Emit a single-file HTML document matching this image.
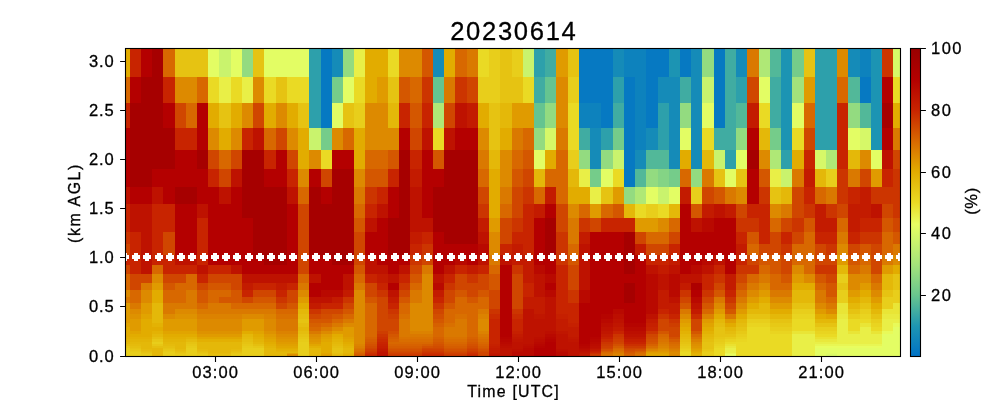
<!DOCTYPE html>
<html><head><meta charset="utf-8"><title>20230614</title>
<style>
html,body{margin:0;padding:0;background:#fff;}
body{width:1000px;height:400px;position:relative;overflow:hidden;font-family:"Liberation Sans",sans-serif;color:#000;}
.t{position:absolute;white-space:nowrap;font-size:16.5px;line-height:20px;letter-spacing:0.6px;will-change:transform;-webkit-text-stroke:0.3px #000;}
.xt{top:361.6px;width:80px;text-align:center;letter-spacing:1.1px;text-indent:1.1px;}
.yt{left:40px;width:74.4px;text-align:right;letter-spacing:0.8px;}
.ct{left:931.3px;text-align:left;letter-spacing:1.5px;}
#title{left:312.5px;width:400px;text-align:center;top:16px;font-size:25.6px;line-height:30px;letter-spacing:1.67px;text-indent:1.67px;}
#xl{left:312.5px;width:400px;text-align:center;top:382.3px;line-height:20px;font-size:15.9px;letter-spacing:1.2px;text-indent:1.2px;}
#yl{left:75.4px;top:203.4px;width:0;height:0;font-size:15.9px;letter-spacing:1.6px;}
#yl span,#cl span{position:absolute;display:block;width:200px;left:-100px;top:-10px;line-height:20px;text-align:center;transform:rotate(-90deg);}
#cl{left:971.3px;top:200.8px;width:0;height:0;}
</style></head><body>
<svg width="1000" height="400" viewBox="0 0 1000 400" style="position:absolute;left:0;top:0">
<defs><linearGradient id="cb" x1="0" y1="1" x2="0" y2="0"><stop offset="0.0000" stop-color="#0072c6"/><stop offset="0.0991" stop-color="#1e96b2"/><stop offset="0.1992" stop-color="#69c68e"/><stop offset="0.2993" stop-color="#a5e47a"/><stop offset="0.4294" stop-color="#e8ff62"/><stop offset="0.4995" stop-color="#eada24"/><stop offset="0.5996" stop-color="#e2ac00"/><stop offset="0.6997" stop-color="#d86800"/><stop offset="0.7998" stop-color="#c82400"/><stop offset="0.8999" stop-color="#b40000"/><stop offset="1.0000" stop-color="#980000"/></linearGradient></defs>
<g shape-rendering="crispEdges"><rect x="126.00" y="348.00" width="4.00" height="8.00" fill="#e8ce1b"/><rect x="126.00" y="346.00" width="4.00" height="2.00" fill="#e7c715"/><rect x="126.00" y="344.00" width="4.00" height="2.00" fill="#e5bf0f"/><rect x="126.00" y="342.00" width="4.00" height="2.00" fill="#e4b809"/><rect x="126.00" y="339.00" width="4.00" height="3.00" fill="#e3b406"/><rect x="126.00" y="337.00" width="4.00" height="2.00" fill="#e3b003"/><rect x="126.00" y="327.00" width="4.00" height="10.00" fill="#e2ac00"/><rect x="126.00" y="323.00" width="4.00" height="4.00" fill="#e1a400"/><rect x="126.00" y="303.00" width="4.00" height="20.00" fill="#e09b00"/><rect x="126.00" y="297.00" width="4.00" height="6.00" fill="#da7900"/><rect x="126.00" y="290.00" width="4.00" height="7.00" fill="#dd8a00"/><rect x="126.00" y="274.00" width="4.00" height="16.00" fill="#d86800"/><rect x="126.00" y="265.00" width="4.00" height="9.00" fill="#d04600"/><rect x="126.00" y="255.00" width="4.00" height="10.00" fill="#c82400"/><rect x="126.00" y="244.00" width="4.00" height="11.00" fill="#d04600"/><rect x="126.00" y="232.00" width="4.00" height="12.00" fill="#cc3500"/><rect x="126.00" y="204.00" width="4.00" height="28.00" fill="#c82400"/><rect x="126.00" y="187.00" width="4.00" height="17.00" fill="#be1200"/><rect x="126.00" y="128.00" width="4.00" height="59.00" fill="#b40000"/><rect x="126.00" y="103.00" width="4.00" height="25.00" fill="#c82400"/><rect x="126.00" y="77.00" width="4.00" height="26.00" fill="#d86800"/><rect x="126.00" y="49.00" width="4.00" height="28.00" fill="#e2ac00"/><rect x="130.00" y="352.00" width="11.00" height="4.00" fill="#e8ce1b"/><rect x="130.00" y="351.00" width="11.00" height="1.00" fill="#e7cb18"/><rect x="130.00" y="349.00" width="11.00" height="2.00" fill="#e7c715"/><rect x="130.00" y="348.00" width="11.00" height="1.00" fill="#e6c312"/><rect x="130.00" y="346.00" width="11.00" height="2.00" fill="#e5bf0f"/><rect x="130.00" y="344.00" width="11.00" height="2.00" fill="#e5bb0c"/><rect x="130.00" y="342.00" width="11.00" height="2.00" fill="#e4b809"/><rect x="130.00" y="339.00" width="11.00" height="3.00" fill="#e3b406"/><rect x="130.00" y="337.00" width="11.00" height="2.00" fill="#e3b003"/><rect x="130.00" y="334.00" width="11.00" height="3.00" fill="#e2ac00"/><rect x="130.00" y="331.00" width="11.00" height="3.00" fill="#e1a400"/><rect x="130.00" y="319.00" width="11.00" height="12.00" fill="#e09b00"/><rect x="130.00" y="314.00" width="11.00" height="5.00" fill="#de9200"/><rect x="130.00" y="309.00" width="11.00" height="5.00" fill="#dd8a00"/><rect x="130.00" y="303.00" width="11.00" height="6.00" fill="#da7900"/><rect x="130.00" y="290.00" width="11.00" height="13.00" fill="#d86800"/><rect x="130.00" y="274.00" width="11.00" height="16.00" fill="#d04600"/><rect x="130.00" y="232.00" width="11.00" height="42.00" fill="#c82400"/><rect x="130.00" y="204.00" width="11.00" height="28.00" fill="#be1200"/><rect x="130.00" y="187.00" width="11.00" height="17.00" fill="#b40000"/><rect x="130.00" y="103.00" width="11.00" height="84.00" fill="#a60000"/><rect x="130.00" y="77.00" width="11.00" height="26.00" fill="#b40000"/><rect x="130.00" y="49.00" width="11.00" height="28.00" fill="#c82400"/><rect x="141.00" y="356.00" width="11.00" height="0.00" fill="#e8ce1b"/><rect x="141.00" y="354.00" width="11.00" height="2.00" fill="#e7cb18"/><rect x="141.00" y="353.00" width="11.00" height="1.00" fill="#e7c715"/><rect x="141.00" y="352.00" width="11.00" height="1.00" fill="#e6c312"/><rect x="141.00" y="351.00" width="11.00" height="1.00" fill="#e5bf0f"/><rect x="141.00" y="349.00" width="11.00" height="2.00" fill="#e5bb0c"/><rect x="141.00" y="342.00" width="11.00" height="7.00" fill="#e4b809"/><rect x="141.00" y="339.00" width="11.00" height="3.00" fill="#e3b406"/><rect x="141.00" y="337.00" width="11.00" height="2.00" fill="#e3b003"/><rect x="141.00" y="319.00" width="11.00" height="18.00" fill="#e2ac00"/><rect x="141.00" y="314.00" width="11.00" height="5.00" fill="#e1a400"/><rect x="141.00" y="303.00" width="11.00" height="11.00" fill="#e09b00"/><rect x="141.00" y="290.00" width="11.00" height="13.00" fill="#dd8a00"/><rect x="141.00" y="283.00" width="11.00" height="7.00" fill="#da7900"/><rect x="141.00" y="274.00" width="11.00" height="9.00" fill="#d04600"/><rect x="141.00" y="204.00" width="11.00" height="70.00" fill="#be1200"/><rect x="141.00" y="187.00" width="11.00" height="17.00" fill="#b40000"/><rect x="141.00" y="77.00" width="11.00" height="110.00" fill="#a60000"/><rect x="141.00" y="49.00" width="11.00" height="28.00" fill="#b40000"/><rect x="152.00" y="348.00" width="11.00" height="8.00" fill="#e4b809"/><rect x="152.00" y="346.00" width="11.00" height="2.00" fill="#e5bf0f"/><rect x="152.00" y="344.00" width="11.00" height="2.00" fill="#e7c715"/><rect x="152.00" y="342.00" width="11.00" height="2.00" fill="#e8ce1b"/><rect x="152.00" y="339.00" width="11.00" height="3.00" fill="#e7c715"/><rect x="152.00" y="337.00" width="11.00" height="2.00" fill="#e5bf0f"/><rect x="152.00" y="334.00" width="11.00" height="3.00" fill="#e4b809"/><rect x="152.00" y="331.00" width="11.00" height="3.00" fill="#e3b204"/><rect x="152.00" y="327.00" width="11.00" height="4.00" fill="#e2ac00"/><rect x="152.00" y="323.00" width="11.00" height="4.00" fill="#e3b204"/><rect x="152.00" y="303.00" width="11.00" height="20.00" fill="#e4b809"/><rect x="152.00" y="290.00" width="11.00" height="13.00" fill="#e2ac00"/><rect x="152.00" y="283.00" width="11.00" height="7.00" fill="#e09b00"/><rect x="152.00" y="274.00" width="11.00" height="9.00" fill="#dd8a00"/><rect x="152.00" y="265.00" width="11.00" height="9.00" fill="#d86800"/><rect x="152.00" y="204.00" width="11.00" height="61.00" fill="#c82400"/><rect x="152.00" y="187.00" width="11.00" height="17.00" fill="#be1200"/><rect x="152.00" y="169.00" width="11.00" height="18.00" fill="#b40000"/><rect x="152.00" y="49.00" width="11.00" height="120.00" fill="#a60000"/><rect x="163.00" y="352.00" width="12.00" height="4.00" fill="#e8ce1b"/><rect x="163.00" y="351.00" width="12.00" height="1.00" fill="#e7cb18"/><rect x="163.00" y="349.00" width="12.00" height="2.00" fill="#e7c715"/><rect x="163.00" y="348.00" width="12.00" height="1.00" fill="#e6c312"/><rect x="163.00" y="346.00" width="12.00" height="2.00" fill="#e5bf0f"/><rect x="163.00" y="344.00" width="12.00" height="2.00" fill="#e5bb0c"/><rect x="163.00" y="342.00" width="12.00" height="2.00" fill="#e4b809"/><rect x="163.00" y="339.00" width="12.00" height="3.00" fill="#e3b406"/><rect x="163.00" y="337.00" width="12.00" height="2.00" fill="#e3b003"/><rect x="163.00" y="334.00" width="12.00" height="3.00" fill="#e2ac00"/><rect x="163.00" y="331.00" width="12.00" height="3.00" fill="#e1a400"/><rect x="163.00" y="319.00" width="12.00" height="12.00" fill="#e09b00"/><rect x="163.00" y="314.00" width="12.00" height="5.00" fill="#dd8a00"/><rect x="163.00" y="303.00" width="12.00" height="11.00" fill="#da7900"/><rect x="163.00" y="290.00" width="12.00" height="13.00" fill="#d86800"/><rect x="163.00" y="283.00" width="12.00" height="7.00" fill="#d45700"/><rect x="163.00" y="274.00" width="12.00" height="9.00" fill="#d04600"/><rect x="163.00" y="255.00" width="12.00" height="19.00" fill="#c82400"/><rect x="163.00" y="232.00" width="12.00" height="23.00" fill="#d04600"/><rect x="163.00" y="204.00" width="12.00" height="28.00" fill="#c82400"/><rect x="163.00" y="169.00" width="12.00" height="35.00" fill="#b40000"/><rect x="163.00" y="128.00" width="12.00" height="41.00" fill="#a60000"/><rect x="163.00" y="103.00" width="12.00" height="25.00" fill="#b40000"/><rect x="163.00" y="77.00" width="12.00" height="26.00" fill="#c82400"/><rect x="163.00" y="49.00" width="12.00" height="28.00" fill="#d86800"/><rect x="175.00" y="356.00" width="11.00" height="0.00" fill="#e8ce1b"/><rect x="175.00" y="354.00" width="11.00" height="2.00" fill="#e7cb18"/><rect x="175.00" y="353.00" width="11.00" height="1.00" fill="#e7c715"/><rect x="175.00" y="352.00" width="11.00" height="1.00" fill="#e6c312"/><rect x="175.00" y="351.00" width="11.00" height="1.00" fill="#e5bf0f"/><rect x="175.00" y="349.00" width="11.00" height="2.00" fill="#e5bb0c"/><rect x="175.00" y="342.00" width="11.00" height="7.00" fill="#e4b809"/><rect x="175.00" y="339.00" width="11.00" height="3.00" fill="#e3b406"/><rect x="175.00" y="337.00" width="11.00" height="2.00" fill="#e3b003"/><rect x="175.00" y="334.00" width="11.00" height="3.00" fill="#e2ac00"/><rect x="175.00" y="331.00" width="11.00" height="3.00" fill="#e1a400"/><rect x="175.00" y="319.00" width="11.00" height="12.00" fill="#e09b00"/><rect x="175.00" y="314.00" width="11.00" height="5.00" fill="#de9200"/><rect x="175.00" y="309.00" width="11.00" height="5.00" fill="#dd8a00"/><rect x="175.00" y="303.00" width="11.00" height="6.00" fill="#da7900"/><rect x="175.00" y="283.00" width="11.00" height="20.00" fill="#d86800"/><rect x="175.00" y="274.00" width="11.00" height="9.00" fill="#d04600"/><rect x="175.00" y="265.00" width="11.00" height="9.00" fill="#c82400"/><rect x="175.00" y="255.00" width="11.00" height="10.00" fill="#be1200"/><rect x="175.00" y="204.00" width="11.00" height="51.00" fill="#b40000"/><rect x="175.00" y="187.00" width="11.00" height="17.00" fill="#a60000"/><rect x="175.00" y="150.00" width="11.00" height="37.00" fill="#b40000"/><rect x="175.00" y="128.00" width="11.00" height="22.00" fill="#c82400"/><rect x="175.00" y="103.00" width="11.00" height="25.00" fill="#d04600"/><rect x="175.00" y="77.00" width="11.00" height="26.00" fill="#dd8a00"/><rect x="175.00" y="49.00" width="11.00" height="28.00" fill="#e6c312"/><rect x="186.00" y="348.00" width="11.00" height="8.00" fill="#e8ce1b"/><rect x="186.00" y="346.00" width="11.00" height="2.00" fill="#e7cb18"/><rect x="186.00" y="344.00" width="11.00" height="2.00" fill="#e7c715"/><rect x="186.00" y="342.00" width="11.00" height="2.00" fill="#e6c312"/><rect x="186.00" y="339.00" width="11.00" height="3.00" fill="#e5bb0c"/><rect x="186.00" y="337.00" width="11.00" height="2.00" fill="#e3b406"/><rect x="186.00" y="334.00" width="11.00" height="3.00" fill="#e2ac00"/><rect x="186.00" y="331.00" width="11.00" height="3.00" fill="#e1a400"/><rect x="186.00" y="319.00" width="11.00" height="12.00" fill="#e09b00"/><rect x="186.00" y="314.00" width="11.00" height="5.00" fill="#de9200"/><rect x="186.00" y="309.00" width="11.00" height="5.00" fill="#dd8a00"/><rect x="186.00" y="290.00" width="11.00" height="19.00" fill="#da7900"/><rect x="186.00" y="274.00" width="11.00" height="16.00" fill="#d86800"/><rect x="186.00" y="265.00" width="11.00" height="9.00" fill="#c82400"/><rect x="186.00" y="255.00" width="11.00" height="10.00" fill="#be1200"/><rect x="186.00" y="204.00" width="11.00" height="51.00" fill="#b40000"/><rect x="186.00" y="187.00" width="11.00" height="17.00" fill="#a60000"/><rect x="186.00" y="150.00" width="11.00" height="37.00" fill="#b40000"/><rect x="186.00" y="128.00" width="11.00" height="22.00" fill="#c82400"/><rect x="186.00" y="103.00" width="11.00" height="25.00" fill="#d86800"/><rect x="186.00" y="77.00" width="11.00" height="26.00" fill="#dd8a00"/><rect x="186.00" y="49.00" width="11.00" height="28.00" fill="#e6c312"/><rect x="197.00" y="356.00" width="11.00" height="0.00" fill="#e8ce1b"/><rect x="197.00" y="354.00" width="11.00" height="2.00" fill="#e7cb18"/><rect x="197.00" y="353.00" width="11.00" height="1.00" fill="#e7c715"/><rect x="197.00" y="352.00" width="11.00" height="1.00" fill="#e6c312"/><rect x="197.00" y="351.00" width="11.00" height="1.00" fill="#e5bf0f"/><rect x="197.00" y="349.00" width="11.00" height="2.00" fill="#e5bb0c"/><rect x="197.00" y="342.00" width="11.00" height="7.00" fill="#e4b809"/><rect x="197.00" y="339.00" width="11.00" height="3.00" fill="#e3b003"/><rect x="197.00" y="337.00" width="11.00" height="2.00" fill="#e1a600"/><rect x="197.00" y="334.00" width="11.00" height="3.00" fill="#e09b00"/><rect x="197.00" y="331.00" width="11.00" height="3.00" fill="#de9200"/><rect x="197.00" y="319.00" width="11.00" height="12.00" fill="#dd8a00"/><rect x="197.00" y="314.00" width="11.00" height="5.00" fill="#dc8200"/><rect x="197.00" y="309.00" width="11.00" height="5.00" fill="#da7900"/><rect x="197.00" y="303.00" width="11.00" height="6.00" fill="#d86800"/><rect x="197.00" y="290.00" width="11.00" height="13.00" fill="#d45700"/><rect x="197.00" y="283.00" width="11.00" height="7.00" fill="#d04600"/><rect x="197.00" y="274.00" width="11.00" height="9.00" fill="#c82400"/><rect x="197.00" y="265.00" width="11.00" height="9.00" fill="#be1200"/><rect x="197.00" y="218.00" width="11.00" height="47.00" fill="#c82400"/><rect x="197.00" y="204.00" width="11.00" height="14.00" fill="#be1200"/><rect x="197.00" y="169.00" width="11.00" height="35.00" fill="#b40000"/><rect x="197.00" y="150.00" width="11.00" height="19.00" fill="#a60000"/><rect x="197.00" y="103.00" width="11.00" height="47.00" fill="#b40000"/><rect x="197.00" y="77.00" width="11.00" height="26.00" fill="#d86800"/><rect x="197.00" y="49.00" width="11.00" height="28.00" fill="#e6c312"/><rect x="208.00" y="356.00" width="11.00" height="0.00" fill="#e6c312"/><rect x="208.00" y="354.00" width="11.00" height="2.00" fill="#e5bf0f"/><rect x="208.00" y="353.00" width="11.00" height="1.00" fill="#e5bb0c"/><rect x="208.00" y="342.00" width="11.00" height="11.00" fill="#e4b809"/><rect x="208.00" y="339.00" width="11.00" height="3.00" fill="#e3b003"/><rect x="208.00" y="337.00" width="11.00" height="2.00" fill="#e1a600"/><rect x="208.00" y="334.00" width="11.00" height="3.00" fill="#e09b00"/><rect x="208.00" y="331.00" width="11.00" height="3.00" fill="#de9200"/><rect x="208.00" y="319.00" width="11.00" height="12.00" fill="#dd8a00"/><rect x="208.00" y="314.00" width="11.00" height="5.00" fill="#dc8200"/><rect x="208.00" y="303.00" width="11.00" height="11.00" fill="#da7900"/><rect x="208.00" y="290.00" width="11.00" height="13.00" fill="#d86800"/><rect x="208.00" y="283.00" width="11.00" height="7.00" fill="#d45700"/><rect x="208.00" y="274.00" width="11.00" height="9.00" fill="#d04600"/><rect x="208.00" y="265.00" width="11.00" height="9.00" fill="#c82400"/><rect x="208.00" y="187.00" width="11.00" height="78.00" fill="#b40000"/><rect x="208.00" y="169.00" width="11.00" height="18.00" fill="#c82400"/><rect x="208.00" y="150.00" width="11.00" height="19.00" fill="#d04600"/><rect x="208.00" y="128.00" width="11.00" height="22.00" fill="#dd8a00"/><rect x="208.00" y="103.00" width="11.00" height="25.00" fill="#e2ac00"/><rect x="208.00" y="77.00" width="11.00" height="26.00" fill="#eada24"/><rect x="208.00" y="49.00" width="11.00" height="28.00" fill="#e3fd64"/><rect x="219.00" y="356.00" width="12.00" height="0.00" fill="#e6c312"/><rect x="219.00" y="354.00" width="12.00" height="2.00" fill="#e5bf0f"/><rect x="219.00" y="353.00" width="12.00" height="1.00" fill="#e5bb0c"/><rect x="219.00" y="342.00" width="12.00" height="11.00" fill="#e4b809"/><rect x="219.00" y="339.00" width="12.00" height="3.00" fill="#e3b003"/><rect x="219.00" y="337.00" width="12.00" height="2.00" fill="#e1a600"/><rect x="219.00" y="334.00" width="12.00" height="3.00" fill="#e09b00"/><rect x="219.00" y="331.00" width="12.00" height="3.00" fill="#de9200"/><rect x="219.00" y="319.00" width="12.00" height="12.00" fill="#dd8a00"/><rect x="219.00" y="314.00" width="12.00" height="5.00" fill="#dc8200"/><rect x="219.00" y="303.00" width="12.00" height="11.00" fill="#da7900"/><rect x="219.00" y="297.00" width="12.00" height="6.00" fill="#d45700"/><rect x="219.00" y="290.00" width="12.00" height="7.00" fill="#d86800"/><rect x="219.00" y="283.00" width="12.00" height="7.00" fill="#d45700"/><rect x="219.00" y="274.00" width="12.00" height="9.00" fill="#d04600"/><rect x="219.00" y="265.00" width="12.00" height="9.00" fill="#c82400"/><rect x="219.00" y="204.00" width="12.00" height="61.00" fill="#b40000"/><rect x="219.00" y="187.00" width="12.00" height="17.00" fill="#be1200"/><rect x="219.00" y="169.00" width="12.00" height="18.00" fill="#d04600"/><rect x="219.00" y="150.00" width="12.00" height="19.00" fill="#d86800"/><rect x="219.00" y="128.00" width="12.00" height="22.00" fill="#e2ac00"/><rect x="219.00" y="103.00" width="12.00" height="25.00" fill="#e6c312"/><rect x="219.00" y="77.00" width="12.00" height="26.00" fill="#e9ef47"/><rect x="219.00" y="49.00" width="12.00" height="28.00" fill="#c9f36d"/><rect x="231.00" y="356.00" width="11.00" height="0.00" fill="#e8ce1b"/><rect x="231.00" y="354.00" width="11.00" height="2.00" fill="#e7cb18"/><rect x="231.00" y="353.00" width="11.00" height="1.00" fill="#e7c715"/><rect x="231.00" y="352.00" width="11.00" height="1.00" fill="#e6c312"/><rect x="231.00" y="351.00" width="11.00" height="1.00" fill="#e5bf0f"/><rect x="231.00" y="349.00" width="11.00" height="2.00" fill="#e5bb0c"/><rect x="231.00" y="342.00" width="11.00" height="7.00" fill="#e4b809"/><rect x="231.00" y="339.00" width="11.00" height="3.00" fill="#e3b003"/><rect x="231.00" y="337.00" width="11.00" height="2.00" fill="#e1a600"/><rect x="231.00" y="334.00" width="11.00" height="3.00" fill="#e09b00"/><rect x="231.00" y="331.00" width="11.00" height="3.00" fill="#de9200"/><rect x="231.00" y="319.00" width="11.00" height="12.00" fill="#dd8a00"/><rect x="231.00" y="314.00" width="11.00" height="5.00" fill="#dc8200"/><rect x="231.00" y="309.00" width="11.00" height="5.00" fill="#da7900"/><rect x="231.00" y="303.00" width="11.00" height="6.00" fill="#d86800"/><rect x="231.00" y="290.00" width="11.00" height="13.00" fill="#d45700"/><rect x="231.00" y="274.00" width="11.00" height="16.00" fill="#d04600"/><rect x="231.00" y="265.00" width="11.00" height="9.00" fill="#be1200"/><rect x="231.00" y="187.00" width="11.00" height="78.00" fill="#b40000"/><rect x="231.00" y="169.00" width="11.00" height="18.00" fill="#be1200"/><rect x="231.00" y="150.00" width="11.00" height="19.00" fill="#d04600"/><rect x="231.00" y="128.00" width="11.00" height="22.00" fill="#dd8a00"/><rect x="231.00" y="103.00" width="11.00" height="25.00" fill="#e2ac00"/><rect x="231.00" y="77.00" width="11.00" height="26.00" fill="#eada24"/><rect x="231.00" y="49.00" width="11.00" height="28.00" fill="#e3fd64"/><rect x="242.00" y="348.00" width="11.00" height="8.00" fill="#e8ce1b"/><rect x="242.00" y="346.00" width="11.00" height="2.00" fill="#e7cb18"/><rect x="242.00" y="344.00" width="11.00" height="2.00" fill="#e7c715"/><rect x="242.00" y="342.00" width="11.00" height="2.00" fill="#e6c312"/><rect x="242.00" y="339.00" width="11.00" height="3.00" fill="#e5bf0f"/><rect x="242.00" y="337.00" width="11.00" height="2.00" fill="#e5bb0c"/><rect x="242.00" y="334.00" width="11.00" height="3.00" fill="#e4b809"/><rect x="242.00" y="331.00" width="11.00" height="3.00" fill="#e2ac00"/><rect x="242.00" y="319.00" width="11.00" height="12.00" fill="#e09b00"/><rect x="242.00" y="314.00" width="11.00" height="5.00" fill="#dd8a00"/><rect x="242.00" y="309.00" width="11.00" height="5.00" fill="#da7900"/><rect x="242.00" y="303.00" width="11.00" height="6.00" fill="#d86800"/><rect x="242.00" y="297.00" width="11.00" height="6.00" fill="#d04600"/><rect x="242.00" y="290.00" width="11.00" height="7.00" fill="#c82400"/><rect x="242.00" y="283.00" width="11.00" height="7.00" fill="#c31b00"/><rect x="242.00" y="274.00" width="11.00" height="9.00" fill="#be1200"/><rect x="242.00" y="218.00" width="11.00" height="56.00" fill="#b40000"/><rect x="242.00" y="150.00" width="11.00" height="68.00" fill="#a60000"/><rect x="242.00" y="128.00" width="11.00" height="22.00" fill="#c82400"/><rect x="242.00" y="103.00" width="11.00" height="25.00" fill="#dd8a00"/><rect x="242.00" y="77.00" width="11.00" height="26.00" fill="#e9ef47"/><rect x="242.00" y="49.00" width="11.00" height="28.00" fill="#93db80"/><rect x="253.00" y="348.00" width="11.00" height="8.00" fill="#e8ce1b"/><rect x="253.00" y="346.00" width="11.00" height="2.00" fill="#e7c715"/><rect x="253.00" y="344.00" width="11.00" height="2.00" fill="#e5bf0f"/><rect x="253.00" y="342.00" width="11.00" height="2.00" fill="#e4b809"/><rect x="253.00" y="339.00" width="11.00" height="3.00" fill="#e3b406"/><rect x="253.00" y="337.00" width="11.00" height="2.00" fill="#e3b003"/><rect x="253.00" y="334.00" width="11.00" height="3.00" fill="#e2ac00"/><rect x="253.00" y="331.00" width="11.00" height="3.00" fill="#e1a400"/><rect x="253.00" y="319.00" width="11.00" height="12.00" fill="#e09b00"/><rect x="253.00" y="314.00" width="11.00" height="5.00" fill="#dd8a00"/><rect x="253.00" y="309.00" width="11.00" height="5.00" fill="#da7900"/><rect x="253.00" y="303.00" width="11.00" height="6.00" fill="#d86800"/><rect x="253.00" y="297.00" width="11.00" height="6.00" fill="#d45700"/><rect x="253.00" y="290.00" width="11.00" height="7.00" fill="#d04600"/><rect x="253.00" y="283.00" width="11.00" height="7.00" fill="#c82400"/><rect x="253.00" y="274.00" width="11.00" height="9.00" fill="#be1200"/><rect x="253.00" y="255.00" width="11.00" height="19.00" fill="#b40000"/><rect x="253.00" y="150.00" width="11.00" height="105.00" fill="#a60000"/><rect x="253.00" y="128.00" width="11.00" height="22.00" fill="#be1200"/><rect x="253.00" y="103.00" width="11.00" height="25.00" fill="#d04600"/><rect x="253.00" y="77.00" width="11.00" height="26.00" fill="#dd8a00"/><rect x="253.00" y="49.00" width="11.00" height="28.00" fill="#e6c312"/><rect x="264.00" y="348.00" width="12.00" height="8.00" fill="#e4b809"/><rect x="264.00" y="346.00" width="12.00" height="2.00" fill="#e3b406"/><rect x="264.00" y="344.00" width="12.00" height="2.00" fill="#e3b003"/><rect x="264.00" y="342.00" width="12.00" height="2.00" fill="#e2ac00"/><rect x="264.00" y="339.00" width="12.00" height="3.00" fill="#e1a600"/><rect x="264.00" y="337.00" width="12.00" height="2.00" fill="#e0a100"/><rect x="264.00" y="334.00" width="12.00" height="3.00" fill="#e09b00"/><rect x="264.00" y="331.00" width="12.00" height="3.00" fill="#de9200"/><rect x="264.00" y="319.00" width="12.00" height="12.00" fill="#dd8a00"/><rect x="264.00" y="314.00" width="12.00" height="5.00" fill="#dc8200"/><rect x="264.00" y="309.00" width="12.00" height="5.00" fill="#da7900"/><rect x="264.00" y="303.00" width="12.00" height="6.00" fill="#d86800"/><rect x="264.00" y="297.00" width="12.00" height="6.00" fill="#d45700"/><rect x="264.00" y="290.00" width="12.00" height="7.00" fill="#d04600"/><rect x="264.00" y="283.00" width="12.00" height="7.00" fill="#c82400"/><rect x="264.00" y="274.00" width="12.00" height="9.00" fill="#be1200"/><rect x="264.00" y="265.00" width="12.00" height="9.00" fill="#b40000"/><rect x="264.00" y="187.00" width="12.00" height="78.00" fill="#a60000"/><rect x="264.00" y="169.00" width="12.00" height="18.00" fill="#b40000"/><rect x="264.00" y="150.00" width="12.00" height="19.00" fill="#c82400"/><rect x="264.00" y="128.00" width="12.00" height="22.00" fill="#d86800"/><rect x="264.00" y="103.00" width="12.00" height="25.00" fill="#e2ac00"/><rect x="264.00" y="77.00" width="12.00" height="26.00" fill="#eada24"/><rect x="264.00" y="49.00" width="12.00" height="28.00" fill="#e3fd64"/><rect x="276.00" y="352.00" width="11.00" height="4.00" fill="#e4b809"/><rect x="276.00" y="351.00" width="11.00" height="1.00" fill="#e3b406"/><rect x="276.00" y="349.00" width="11.00" height="2.00" fill="#e3b003"/><rect x="276.00" y="348.00" width="11.00" height="1.00" fill="#e2ac00"/><rect x="276.00" y="346.00" width="11.00" height="2.00" fill="#e1a600"/><rect x="276.00" y="344.00" width="11.00" height="2.00" fill="#e0a100"/><rect x="276.00" y="342.00" width="11.00" height="2.00" fill="#e09b00"/><rect x="276.00" y="339.00" width="11.00" height="3.00" fill="#df9500"/><rect x="276.00" y="337.00" width="11.00" height="2.00" fill="#de9000"/><rect x="276.00" y="334.00" width="11.00" height="3.00" fill="#dd8a00"/><rect x="276.00" y="331.00" width="11.00" height="3.00" fill="#dc8200"/><rect x="276.00" y="319.00" width="11.00" height="12.00" fill="#da7900"/><rect x="276.00" y="314.00" width="11.00" height="5.00" fill="#d97000"/><rect x="276.00" y="309.00" width="11.00" height="5.00" fill="#d86800"/><rect x="276.00" y="303.00" width="11.00" height="6.00" fill="#d04600"/><rect x="276.00" y="297.00" width="11.00" height="6.00" fill="#cc3500"/><rect x="276.00" y="290.00" width="11.00" height="7.00" fill="#c82400"/><rect x="276.00" y="283.00" width="11.00" height="7.00" fill="#c31b00"/><rect x="276.00" y="274.00" width="11.00" height="9.00" fill="#be1200"/><rect x="276.00" y="265.00" width="11.00" height="9.00" fill="#b40000"/><rect x="276.00" y="187.00" width="11.00" height="78.00" fill="#a60000"/><rect x="276.00" y="150.00" width="11.00" height="37.00" fill="#b40000"/><rect x="276.00" y="128.00" width="11.00" height="22.00" fill="#d04600"/><rect x="276.00" y="103.00" width="11.00" height="25.00" fill="#dd8a00"/><rect x="276.00" y="77.00" width="11.00" height="26.00" fill="#e6c312"/><rect x="276.00" y="49.00" width="11.00" height="28.00" fill="#e3fd64"/><rect x="287.00" y="356.00" width="11.00" height="0.00" fill="#da7900"/><rect x="287.00" y="354.00" width="11.00" height="2.00" fill="#de9000"/><rect x="287.00" y="353.00" width="11.00" height="1.00" fill="#e1a600"/><rect x="287.00" y="352.00" width="11.00" height="1.00" fill="#e4b809"/><rect x="287.00" y="351.00" width="11.00" height="1.00" fill="#e3b406"/><rect x="287.00" y="349.00" width="11.00" height="2.00" fill="#e3b003"/><rect x="287.00" y="348.00" width="11.00" height="1.00" fill="#e2ac00"/><rect x="287.00" y="346.00" width="11.00" height="2.00" fill="#e1a600"/><rect x="287.00" y="344.00" width="11.00" height="2.00" fill="#e0a100"/><rect x="287.00" y="342.00" width="11.00" height="2.00" fill="#e09b00"/><rect x="287.00" y="339.00" width="11.00" height="3.00" fill="#df9500"/><rect x="287.00" y="337.00" width="11.00" height="2.00" fill="#de9000"/><rect x="287.00" y="334.00" width="11.00" height="3.00" fill="#dd8a00"/><rect x="287.00" y="331.00" width="11.00" height="3.00" fill="#dc8200"/><rect x="287.00" y="319.00" width="11.00" height="12.00" fill="#da7900"/><rect x="287.00" y="314.00" width="11.00" height="5.00" fill="#d97000"/><rect x="287.00" y="309.00" width="11.00" height="5.00" fill="#d86800"/><rect x="287.00" y="303.00" width="11.00" height="6.00" fill="#d45700"/><rect x="287.00" y="290.00" width="11.00" height="13.00" fill="#d04600"/><rect x="287.00" y="283.00" width="11.00" height="7.00" fill="#c82400"/><rect x="287.00" y="274.00" width="11.00" height="9.00" fill="#be1200"/><rect x="287.00" y="204.00" width="11.00" height="70.00" fill="#b40000"/><rect x="287.00" y="187.00" width="11.00" height="17.00" fill="#be1200"/><rect x="287.00" y="169.00" width="11.00" height="18.00" fill="#c82400"/><rect x="287.00" y="150.00" width="11.00" height="19.00" fill="#d04600"/><rect x="287.00" y="128.00" width="11.00" height="22.00" fill="#dd8a00"/><rect x="287.00" y="103.00" width="11.00" height="25.00" fill="#e2ac00"/><rect x="287.00" y="77.00" width="11.00" height="26.00" fill="#eada24"/><rect x="287.00" y="49.00" width="11.00" height="28.00" fill="#e3fd64"/><rect x="298.00" y="342.00" width="11.00" height="14.00" fill="#e8ce1b"/><rect x="298.00" y="339.00" width="11.00" height="3.00" fill="#e7cb18"/><rect x="298.00" y="337.00" width="11.00" height="2.00" fill="#e7c715"/><rect x="298.00" y="334.00" width="11.00" height="3.00" fill="#e6c312"/><rect x="298.00" y="331.00" width="11.00" height="3.00" fill="#e5bd0e"/><rect x="298.00" y="327.00" width="11.00" height="4.00" fill="#e4b809"/><rect x="298.00" y="323.00" width="11.00" height="4.00" fill="#e5bd0e"/><rect x="298.00" y="319.00" width="11.00" height="4.00" fill="#e6c312"/><rect x="298.00" y="314.00" width="11.00" height="5.00" fill="#e5bd0e"/><rect x="298.00" y="309.00" width="11.00" height="5.00" fill="#e4b809"/><rect x="298.00" y="303.00" width="11.00" height="6.00" fill="#e2ac00"/><rect x="298.00" y="297.00" width="11.00" height="6.00" fill="#e09b00"/><rect x="298.00" y="290.00" width="11.00" height="7.00" fill="#dd8a00"/><rect x="298.00" y="283.00" width="11.00" height="7.00" fill="#da7900"/><rect x="298.00" y="274.00" width="11.00" height="9.00" fill="#d86800"/><rect x="298.00" y="204.00" width="11.00" height="70.00" fill="#d04600"/><rect x="298.00" y="187.00" width="11.00" height="17.00" fill="#d86800"/><rect x="298.00" y="169.00" width="11.00" height="18.00" fill="#dd8a00"/><rect x="298.00" y="128.00" width="11.00" height="41.00" fill="#e2ac00"/><rect x="298.00" y="103.00" width="11.00" height="25.00" fill="#e6c312"/><rect x="298.00" y="77.00" width="11.00" height="26.00" fill="#eada24"/><rect x="298.00" y="49.00" width="11.00" height="28.00" fill="#e3fd64"/><rect x="309.00" y="348.00" width="12.00" height="8.00" fill="#e4b809"/><rect x="309.00" y="346.00" width="12.00" height="2.00" fill="#e3b003"/><rect x="309.00" y="344.00" width="12.00" height="2.00" fill="#e1a600"/><rect x="309.00" y="342.00" width="12.00" height="2.00" fill="#e09b00"/><rect x="309.00" y="339.00" width="12.00" height="3.00" fill="#df9500"/><rect x="309.00" y="337.00" width="12.00" height="2.00" fill="#de9000"/><rect x="309.00" y="334.00" width="12.00" height="3.00" fill="#dd8a00"/><rect x="309.00" y="331.00" width="12.00" height="3.00" fill="#da7900"/><rect x="309.00" y="327.00" width="12.00" height="4.00" fill="#d86800"/><rect x="309.00" y="323.00" width="12.00" height="4.00" fill="#d66000"/><rect x="309.00" y="319.00" width="12.00" height="4.00" fill="#d45700"/><rect x="309.00" y="314.00" width="12.00" height="5.00" fill="#d04600"/><rect x="309.00" y="309.00" width="12.00" height="5.00" fill="#cc3500"/><rect x="309.00" y="303.00" width="12.00" height="6.00" fill="#c31b00"/><rect x="309.00" y="297.00" width="12.00" height="6.00" fill="#be1200"/><rect x="309.00" y="283.00" width="12.00" height="14.00" fill="#b40000"/><rect x="309.00" y="274.00" width="12.00" height="9.00" fill="#be1200"/><rect x="309.00" y="255.00" width="12.00" height="19.00" fill="#b40000"/><rect x="309.00" y="187.00" width="12.00" height="68.00" fill="#a60000"/><rect x="309.00" y="169.00" width="12.00" height="18.00" fill="#b40000"/><rect x="309.00" y="150.00" width="12.00" height="19.00" fill="#dd8a00"/><rect x="309.00" y="128.00" width="12.00" height="22.00" fill="#c9f36d"/><rect x="309.00" y="49.00" width="12.00" height="79.00" fill="#2da0ab"/><rect x="321.00" y="356.00" width="11.00" height="0.00" fill="#e09b00"/><rect x="321.00" y="354.00" width="11.00" height="2.00" fill="#e0a100"/><rect x="321.00" y="353.00" width="11.00" height="1.00" fill="#e1a600"/><rect x="321.00" y="342.00" width="11.00" height="11.00" fill="#e2ac00"/><rect x="321.00" y="339.00" width="11.00" height="3.00" fill="#e1a600"/><rect x="321.00" y="337.00" width="11.00" height="2.00" fill="#e0a100"/><rect x="321.00" y="334.00" width="11.00" height="3.00" fill="#e09b00"/><rect x="321.00" y="331.00" width="11.00" height="3.00" fill="#dd8a00"/><rect x="321.00" y="327.00" width="11.00" height="4.00" fill="#da7900"/><rect x="321.00" y="323.00" width="11.00" height="4.00" fill="#d86800"/><rect x="321.00" y="319.00" width="11.00" height="4.00" fill="#d45700"/><rect x="321.00" y="314.00" width="11.00" height="5.00" fill="#d24e00"/><rect x="321.00" y="309.00" width="11.00" height="5.00" fill="#d04600"/><rect x="321.00" y="303.00" width="11.00" height="6.00" fill="#c82400"/><rect x="321.00" y="297.00" width="11.00" height="6.00" fill="#be1200"/><rect x="321.00" y="290.00" width="11.00" height="7.00" fill="#b90900"/><rect x="321.00" y="255.00" width="11.00" height="35.00" fill="#b40000"/><rect x="321.00" y="204.00" width="11.00" height="51.00" fill="#a60000"/><rect x="321.00" y="187.00" width="11.00" height="17.00" fill="#b40000"/><rect x="321.00" y="169.00" width="11.00" height="18.00" fill="#d04600"/><rect x="321.00" y="150.00" width="11.00" height="19.00" fill="#eada24"/><rect x="321.00" y="128.00" width="11.00" height="22.00" fill="#75cc8a"/><rect x="321.00" y="49.00" width="11.00" height="79.00" fill="#0679c2"/><rect x="332.00" y="356.00" width="11.00" height="0.00" fill="#e4b809"/><rect x="332.00" y="354.00" width="11.00" height="2.00" fill="#e5bb0c"/><rect x="332.00" y="353.00" width="11.00" height="1.00" fill="#e5bf0f"/><rect x="332.00" y="348.00" width="11.00" height="5.00" fill="#e6c312"/><rect x="332.00" y="346.00" width="11.00" height="2.00" fill="#e5bf0f"/><rect x="332.00" y="344.00" width="11.00" height="2.00" fill="#e5bb0c"/><rect x="332.00" y="342.00" width="11.00" height="2.00" fill="#e4b809"/><rect x="332.00" y="339.00" width="11.00" height="3.00" fill="#e3b406"/><rect x="332.00" y="337.00" width="11.00" height="2.00" fill="#e3b003"/><rect x="332.00" y="334.00" width="11.00" height="3.00" fill="#e2ac00"/><rect x="332.00" y="331.00" width="11.00" height="3.00" fill="#e09b00"/><rect x="332.00" y="327.00" width="11.00" height="4.00" fill="#dd8a00"/><rect x="332.00" y="323.00" width="11.00" height="4.00" fill="#da7900"/><rect x="332.00" y="319.00" width="11.00" height="4.00" fill="#d86800"/><rect x="332.00" y="314.00" width="11.00" height="5.00" fill="#d45700"/><rect x="332.00" y="309.00" width="11.00" height="5.00" fill="#d04600"/><rect x="332.00" y="303.00" width="11.00" height="6.00" fill="#c82400"/><rect x="332.00" y="297.00" width="11.00" height="6.00" fill="#c31b00"/><rect x="332.00" y="290.00" width="11.00" height="7.00" fill="#b90900"/><rect x="332.00" y="265.00" width="11.00" height="25.00" fill="#b40000"/><rect x="332.00" y="169.00" width="11.00" height="96.00" fill="#a60000"/><rect x="332.00" y="150.00" width="11.00" height="19.00" fill="#b40000"/><rect x="332.00" y="128.00" width="11.00" height="22.00" fill="#dd8a00"/><rect x="332.00" y="103.00" width="11.00" height="25.00" fill="#e3fd64"/><rect x="332.00" y="77.00" width="11.00" height="26.00" fill="#75cc8a"/><rect x="332.00" y="49.00" width="11.00" height="28.00" fill="#158bb8"/><rect x="343.00" y="356.00" width="11.00" height="0.00" fill="#e2ac00"/><rect x="343.00" y="354.00" width="11.00" height="2.00" fill="#e3b003"/><rect x="343.00" y="353.00" width="11.00" height="1.00" fill="#e3b406"/><rect x="343.00" y="348.00" width="11.00" height="5.00" fill="#e4b809"/><rect x="343.00" y="346.00" width="11.00" height="2.00" fill="#e3b406"/><rect x="343.00" y="344.00" width="11.00" height="2.00" fill="#e3b003"/><rect x="343.00" y="342.00" width="11.00" height="2.00" fill="#e2ac00"/><rect x="343.00" y="339.00" width="11.00" height="3.00" fill="#e1a600"/><rect x="343.00" y="337.00" width="11.00" height="2.00" fill="#e0a100"/><rect x="343.00" y="327.00" width="11.00" height="10.00" fill="#e09b00"/><rect x="343.00" y="323.00" width="11.00" height="4.00" fill="#dd8a00"/><rect x="343.00" y="319.00" width="11.00" height="4.00" fill="#da7900"/><rect x="343.00" y="314.00" width="11.00" height="5.00" fill="#d86800"/><rect x="343.00" y="309.00" width="11.00" height="5.00" fill="#d45700"/><rect x="343.00" y="303.00" width="11.00" height="6.00" fill="#d04600"/><rect x="343.00" y="297.00" width="11.00" height="6.00" fill="#cc3500"/><rect x="343.00" y="290.00" width="11.00" height="7.00" fill="#c31b00"/><rect x="343.00" y="274.00" width="11.00" height="16.00" fill="#be1200"/><rect x="343.00" y="265.00" width="11.00" height="9.00" fill="#b40000"/><rect x="343.00" y="169.00" width="11.00" height="96.00" fill="#a60000"/><rect x="343.00" y="150.00" width="11.00" height="19.00" fill="#b40000"/><rect x="343.00" y="128.00" width="11.00" height="22.00" fill="#d86800"/><rect x="343.00" y="103.00" width="11.00" height="25.00" fill="#e6c312"/><rect x="343.00" y="77.00" width="11.00" height="26.00" fill="#e3fd64"/><rect x="343.00" y="49.00" width="11.00" height="28.00" fill="#93db80"/><rect x="354.00" y="356.00" width="11.00" height="0.00" fill="#d45700"/><rect x="354.00" y="354.00" width="11.00" height="2.00" fill="#d55d00"/><rect x="354.00" y="353.00" width="11.00" height="1.00" fill="#d76200"/><rect x="354.00" y="352.00" width="11.00" height="1.00" fill="#d86800"/><rect x="354.00" y="351.00" width="11.00" height="1.00" fill="#d96e00"/><rect x="354.00" y="349.00" width="11.00" height="2.00" fill="#da7300"/><rect x="354.00" y="348.00" width="11.00" height="1.00" fill="#da7900"/><rect x="354.00" y="346.00" width="11.00" height="2.00" fill="#db7f00"/><rect x="354.00" y="344.00" width="11.00" height="2.00" fill="#dc8400"/><rect x="354.00" y="290.00" width="11.00" height="54.00" fill="#dd8a00"/><rect x="354.00" y="283.00" width="11.00" height="7.00" fill="#da7900"/><rect x="354.00" y="274.00" width="11.00" height="9.00" fill="#d86800"/><rect x="354.00" y="265.00" width="11.00" height="9.00" fill="#d45700"/><rect x="354.00" y="232.00" width="11.00" height="33.00" fill="#d04600"/><rect x="354.00" y="218.00" width="11.00" height="14.00" fill="#d45700"/><rect x="354.00" y="204.00" width="11.00" height="14.00" fill="#d86800"/><rect x="354.00" y="187.00" width="11.00" height="17.00" fill="#da7900"/><rect x="354.00" y="169.00" width="11.00" height="18.00" fill="#dd8a00"/><rect x="354.00" y="128.00" width="11.00" height="41.00" fill="#e2ac00"/><rect x="354.00" y="103.00" width="11.00" height="25.00" fill="#e8ce1b"/><rect x="354.00" y="77.00" width="11.00" height="26.00" fill="#eada24"/><rect x="354.00" y="49.00" width="11.00" height="28.00" fill="#e9ef47"/><rect x="365.00" y="356.00" width="12.00" height="0.00" fill="#c82400"/><rect x="365.00" y="354.00" width="12.00" height="2.00" fill="#c92a00"/><rect x="365.00" y="353.00" width="12.00" height="1.00" fill="#cb2f00"/><rect x="365.00" y="352.00" width="12.00" height="1.00" fill="#cc3500"/><rect x="365.00" y="351.00" width="12.00" height="1.00" fill="#cd3b00"/><rect x="365.00" y="349.00" width="12.00" height="2.00" fill="#cf4000"/><rect x="365.00" y="348.00" width="12.00" height="1.00" fill="#d04600"/><rect x="365.00" y="346.00" width="12.00" height="2.00" fill="#d14c00"/><rect x="365.00" y="344.00" width="12.00" height="2.00" fill="#d35100"/><rect x="365.00" y="342.00" width="12.00" height="2.00" fill="#d45700"/><rect x="365.00" y="339.00" width="12.00" height="3.00" fill="#d55d00"/><rect x="365.00" y="337.00" width="12.00" height="2.00" fill="#d76200"/><rect x="365.00" y="303.00" width="12.00" height="34.00" fill="#d86800"/><rect x="365.00" y="297.00" width="12.00" height="6.00" fill="#d45700"/><rect x="365.00" y="283.00" width="12.00" height="14.00" fill="#d04600"/><rect x="365.00" y="274.00" width="12.00" height="9.00" fill="#c82400"/><rect x="365.00" y="255.00" width="12.00" height="19.00" fill="#be1200"/><rect x="365.00" y="232.00" width="12.00" height="23.00" fill="#b40000"/><rect x="365.00" y="218.00" width="12.00" height="14.00" fill="#be1200"/><rect x="365.00" y="204.00" width="12.00" height="14.00" fill="#c82400"/><rect x="365.00" y="187.00" width="12.00" height="17.00" fill="#cc3500"/><rect x="365.00" y="169.00" width="12.00" height="18.00" fill="#d45700"/><rect x="365.00" y="150.00" width="12.00" height="19.00" fill="#d86800"/><rect x="365.00" y="103.00" width="12.00" height="47.00" fill="#dd8a00"/><rect x="365.00" y="49.00" width="12.00" height="54.00" fill="#e2ac00"/><rect x="377.00" y="352.00" width="11.00" height="4.00" fill="#be1200"/><rect x="377.00" y="351.00" width="11.00" height="1.00" fill="#c01500"/><rect x="377.00" y="349.00" width="11.00" height="2.00" fill="#c11800"/><rect x="377.00" y="348.00" width="11.00" height="1.00" fill="#c31b00"/><rect x="377.00" y="346.00" width="11.00" height="2.00" fill="#c51e00"/><rect x="377.00" y="344.00" width="11.00" height="2.00" fill="#c62100"/><rect x="377.00" y="342.00" width="11.00" height="2.00" fill="#c82400"/><rect x="377.00" y="339.00" width="11.00" height="3.00" fill="#c92a00"/><rect x="377.00" y="337.00" width="11.00" height="2.00" fill="#cb2f00"/><rect x="377.00" y="334.00" width="11.00" height="3.00" fill="#cc3500"/><rect x="377.00" y="331.00" width="11.00" height="3.00" fill="#ce3e00"/><rect x="377.00" y="297.00" width="11.00" height="34.00" fill="#d04600"/><rect x="377.00" y="290.00" width="11.00" height="7.00" fill="#cc3500"/><rect x="377.00" y="283.00" width="11.00" height="7.00" fill="#c82400"/><rect x="377.00" y="274.00" width="11.00" height="9.00" fill="#c31b00"/><rect x="377.00" y="265.00" width="11.00" height="9.00" fill="#be1200"/><rect x="377.00" y="218.00" width="11.00" height="47.00" fill="#b40000"/><rect x="377.00" y="204.00" width="11.00" height="14.00" fill="#be1200"/><rect x="377.00" y="187.00" width="11.00" height="17.00" fill="#c82400"/><rect x="377.00" y="169.00" width="11.00" height="18.00" fill="#d45700"/><rect x="377.00" y="150.00" width="11.00" height="19.00" fill="#d86800"/><rect x="377.00" y="103.00" width="11.00" height="47.00" fill="#dd8a00"/><rect x="377.00" y="77.00" width="11.00" height="26.00" fill="#e09b00"/><rect x="377.00" y="49.00" width="11.00" height="28.00" fill="#e2ac00"/><rect x="388.00" y="356.00" width="11.00" height="0.00" fill="#cc3500"/><rect x="388.00" y="354.00" width="11.00" height="2.00" fill="#cd3b00"/><rect x="388.00" y="353.00" width="11.00" height="1.00" fill="#cf4000"/><rect x="388.00" y="352.00" width="11.00" height="1.00" fill="#d04600"/><rect x="388.00" y="351.00" width="11.00" height="1.00" fill="#d14c00"/><rect x="388.00" y="349.00" width="11.00" height="2.00" fill="#d35100"/><rect x="388.00" y="348.00" width="11.00" height="1.00" fill="#d45700"/><rect x="388.00" y="346.00" width="11.00" height="2.00" fill="#d55d00"/><rect x="388.00" y="344.00" width="11.00" height="2.00" fill="#d76200"/><rect x="388.00" y="342.00" width="11.00" height="2.00" fill="#d86800"/><rect x="388.00" y="339.00" width="11.00" height="3.00" fill="#d76200"/><rect x="388.00" y="337.00" width="11.00" height="2.00" fill="#d55d00"/><rect x="388.00" y="334.00" width="11.00" height="3.00" fill="#d45700"/><rect x="388.00" y="331.00" width="11.00" height="3.00" fill="#d24e00"/><rect x="388.00" y="319.00" width="11.00" height="12.00" fill="#d04600"/><rect x="388.00" y="314.00" width="11.00" height="5.00" fill="#ce3e00"/><rect x="388.00" y="309.00" width="11.00" height="5.00" fill="#cc3500"/><rect x="388.00" y="303.00" width="11.00" height="6.00" fill="#c82400"/><rect x="388.00" y="297.00" width="11.00" height="6.00" fill="#c31b00"/><rect x="388.00" y="290.00" width="11.00" height="7.00" fill="#be1200"/><rect x="388.00" y="283.00" width="11.00" height="7.00" fill="#b40000"/><rect x="388.00" y="274.00" width="11.00" height="9.00" fill="#be1200"/><rect x="388.00" y="255.00" width="11.00" height="19.00" fill="#b40000"/><rect x="388.00" y="218.00" width="11.00" height="37.00" fill="#a60000"/><rect x="388.00" y="187.00" width="11.00" height="31.00" fill="#b40000"/><rect x="388.00" y="169.00" width="11.00" height="18.00" fill="#c82400"/><rect x="388.00" y="150.00" width="11.00" height="19.00" fill="#d45700"/><rect x="388.00" y="128.00" width="11.00" height="22.00" fill="#dd8a00"/><rect x="388.00" y="103.00" width="11.00" height="25.00" fill="#e4b809"/><rect x="388.00" y="77.00" width="11.00" height="26.00" fill="#e6c312"/><rect x="388.00" y="49.00" width="11.00" height="28.00" fill="#eada24"/><rect x="399.00" y="356.00" width="11.00" height="0.00" fill="#cc3500"/><rect x="399.00" y="354.00" width="11.00" height="2.00" fill="#cd3b00"/><rect x="399.00" y="353.00" width="11.00" height="1.00" fill="#cf4000"/><rect x="399.00" y="352.00" width="11.00" height="1.00" fill="#d04600"/><rect x="399.00" y="351.00" width="11.00" height="1.00" fill="#d14c00"/><rect x="399.00" y="349.00" width="11.00" height="2.00" fill="#d35100"/><rect x="399.00" y="348.00" width="11.00" height="1.00" fill="#d45700"/><rect x="399.00" y="346.00" width="11.00" height="2.00" fill="#d55d00"/><rect x="399.00" y="344.00" width="11.00" height="2.00" fill="#d76200"/><rect x="399.00" y="342.00" width="11.00" height="2.00" fill="#d86800"/><rect x="399.00" y="339.00" width="11.00" height="3.00" fill="#d96e00"/><rect x="399.00" y="337.00" width="11.00" height="2.00" fill="#da7300"/><rect x="399.00" y="319.00" width="11.00" height="18.00" fill="#da7900"/><rect x="399.00" y="314.00" width="11.00" height="5.00" fill="#d97000"/><rect x="399.00" y="303.00" width="11.00" height="11.00" fill="#d86800"/><rect x="399.00" y="297.00" width="11.00" height="6.00" fill="#d45700"/><rect x="399.00" y="290.00" width="11.00" height="7.00" fill="#d04600"/><rect x="399.00" y="283.00" width="11.00" height="7.00" fill="#cc3500"/><rect x="399.00" y="274.00" width="11.00" height="9.00" fill="#c82400"/><rect x="399.00" y="265.00" width="11.00" height="9.00" fill="#be1200"/><rect x="399.00" y="255.00" width="11.00" height="10.00" fill="#b40000"/><rect x="399.00" y="150.00" width="11.00" height="105.00" fill="#a60000"/><rect x="399.00" y="128.00" width="11.00" height="22.00" fill="#b40000"/><rect x="399.00" y="103.00" width="11.00" height="25.00" fill="#c82400"/><rect x="399.00" y="77.00" width="11.00" height="26.00" fill="#d45700"/><rect x="399.00" y="49.00" width="11.00" height="28.00" fill="#dd8a00"/><rect x="410.00" y="356.00" width="12.00" height="0.00" fill="#cc3500"/><rect x="410.00" y="354.00" width="12.00" height="2.00" fill="#cd3b00"/><rect x="410.00" y="353.00" width="12.00" height="1.00" fill="#cf4000"/><rect x="410.00" y="352.00" width="12.00" height="1.00" fill="#d04600"/><rect x="410.00" y="351.00" width="12.00" height="1.00" fill="#d14c00"/><rect x="410.00" y="349.00" width="12.00" height="2.00" fill="#d35100"/><rect x="410.00" y="348.00" width="12.00" height="1.00" fill="#d45700"/><rect x="410.00" y="346.00" width="12.00" height="2.00" fill="#d55d00"/><rect x="410.00" y="344.00" width="12.00" height="2.00" fill="#d76200"/><rect x="410.00" y="342.00" width="12.00" height="2.00" fill="#d86800"/><rect x="410.00" y="339.00" width="12.00" height="3.00" fill="#d96e00"/><rect x="410.00" y="337.00" width="12.00" height="2.00" fill="#da7300"/><rect x="410.00" y="334.00" width="12.00" height="3.00" fill="#da7900"/><rect x="410.00" y="331.00" width="12.00" height="3.00" fill="#dc8200"/><rect x="410.00" y="303.00" width="12.00" height="28.00" fill="#dd8a00"/><rect x="410.00" y="290.00" width="12.00" height="13.00" fill="#da7900"/><rect x="410.00" y="283.00" width="12.00" height="7.00" fill="#d86800"/><rect x="410.00" y="274.00" width="12.00" height="9.00" fill="#d45700"/><rect x="410.00" y="265.00" width="12.00" height="9.00" fill="#d04600"/><rect x="410.00" y="255.00" width="12.00" height="10.00" fill="#cc3500"/><rect x="410.00" y="244.00" width="12.00" height="11.00" fill="#c82400"/><rect x="410.00" y="232.00" width="12.00" height="12.00" fill="#c31b00"/><rect x="410.00" y="187.00" width="12.00" height="45.00" fill="#be1200"/><rect x="410.00" y="169.00" width="12.00" height="18.00" fill="#c31b00"/><rect x="410.00" y="150.00" width="12.00" height="19.00" fill="#c82400"/><rect x="410.00" y="128.00" width="12.00" height="22.00" fill="#d04600"/><rect x="410.00" y="103.00" width="12.00" height="25.00" fill="#d45700"/><rect x="410.00" y="77.00" width="12.00" height="26.00" fill="#d86800"/><rect x="410.00" y="49.00" width="12.00" height="28.00" fill="#dd8a00"/><rect x="422.00" y="356.00" width="11.00" height="0.00" fill="#c82400"/><rect x="422.00" y="354.00" width="11.00" height="2.00" fill="#c92a00"/><rect x="422.00" y="353.00" width="11.00" height="1.00" fill="#cb2f00"/><rect x="422.00" y="352.00" width="11.00" height="1.00" fill="#cc3500"/><rect x="422.00" y="351.00" width="11.00" height="1.00" fill="#cd3b00"/><rect x="422.00" y="349.00" width="11.00" height="2.00" fill="#cf4000"/><rect x="422.00" y="348.00" width="11.00" height="1.00" fill="#d04600"/><rect x="422.00" y="346.00" width="11.00" height="2.00" fill="#d35100"/><rect x="422.00" y="344.00" width="11.00" height="2.00" fill="#d55d00"/><rect x="422.00" y="342.00" width="11.00" height="2.00" fill="#d86800"/><rect x="422.00" y="339.00" width="11.00" height="3.00" fill="#d96e00"/><rect x="422.00" y="337.00" width="11.00" height="2.00" fill="#da7300"/><rect x="422.00" y="334.00" width="11.00" height="3.00" fill="#da7900"/><rect x="422.00" y="331.00" width="11.00" height="3.00" fill="#dc8200"/><rect x="422.00" y="274.00" width="11.00" height="57.00" fill="#dd8a00"/><rect x="422.00" y="265.00" width="11.00" height="9.00" fill="#da7900"/><rect x="422.00" y="255.00" width="11.00" height="10.00" fill="#d04600"/><rect x="422.00" y="244.00" width="11.00" height="11.00" fill="#cc3500"/><rect x="422.00" y="232.00" width="11.00" height="12.00" fill="#c82400"/><rect x="422.00" y="218.00" width="11.00" height="14.00" fill="#be1200"/><rect x="422.00" y="150.00" width="11.00" height="68.00" fill="#b40000"/><rect x="422.00" y="128.00" width="11.00" height="22.00" fill="#be1200"/><rect x="422.00" y="103.00" width="11.00" height="25.00" fill="#c82400"/><rect x="422.00" y="77.00" width="11.00" height="26.00" fill="#cc3500"/><rect x="422.00" y="49.00" width="11.00" height="28.00" fill="#d45700"/><rect x="433.00" y="356.00" width="11.00" height="0.00" fill="#c82400"/><rect x="433.00" y="354.00" width="11.00" height="2.00" fill="#c92a00"/><rect x="433.00" y="353.00" width="11.00" height="1.00" fill="#cb2f00"/><rect x="433.00" y="352.00" width="11.00" height="1.00" fill="#cc3500"/><rect x="433.00" y="351.00" width="11.00" height="1.00" fill="#cd3b00"/><rect x="433.00" y="349.00" width="11.00" height="2.00" fill="#cf4000"/><rect x="433.00" y="348.00" width="11.00" height="1.00" fill="#d04600"/><rect x="433.00" y="346.00" width="11.00" height="2.00" fill="#d14c00"/><rect x="433.00" y="344.00" width="11.00" height="2.00" fill="#d35100"/><rect x="433.00" y="342.00" width="11.00" height="2.00" fill="#d45700"/><rect x="433.00" y="339.00" width="11.00" height="3.00" fill="#d55d00"/><rect x="433.00" y="337.00" width="11.00" height="2.00" fill="#d76200"/><rect x="433.00" y="327.00" width="11.00" height="10.00" fill="#d86800"/><rect x="433.00" y="323.00" width="11.00" height="4.00" fill="#d66000"/><rect x="433.00" y="319.00" width="11.00" height="4.00" fill="#d45700"/><rect x="433.00" y="314.00" width="11.00" height="5.00" fill="#d24e00"/><rect x="433.00" y="309.00" width="11.00" height="5.00" fill="#d04600"/><rect x="433.00" y="303.00" width="11.00" height="6.00" fill="#cc3500"/><rect x="433.00" y="297.00" width="11.00" height="6.00" fill="#c82400"/><rect x="433.00" y="290.00" width="11.00" height="7.00" fill="#c31b00"/><rect x="433.00" y="283.00" width="11.00" height="7.00" fill="#b90900"/><rect x="433.00" y="274.00" width="11.00" height="9.00" fill="#be1200"/><rect x="433.00" y="232.00" width="11.00" height="42.00" fill="#b40000"/><rect x="433.00" y="187.00" width="11.00" height="45.00" fill="#a60000"/><rect x="433.00" y="169.00" width="11.00" height="18.00" fill="#b40000"/><rect x="433.00" y="150.00" width="11.00" height="19.00" fill="#d45700"/><rect x="433.00" y="128.00" width="11.00" height="22.00" fill="#eada24"/><rect x="433.00" y="103.00" width="11.00" height="25.00" fill="#afe876"/><rect x="433.00" y="77.00" width="11.00" height="26.00" fill="#65c490"/><rect x="433.00" y="49.00" width="11.00" height="28.00" fill="#158bb8"/><rect x="444.00" y="356.00" width="11.00" height="0.00" fill="#cc3500"/><rect x="444.00" y="354.00" width="11.00" height="2.00" fill="#cd3b00"/><rect x="444.00" y="353.00" width="11.00" height="1.00" fill="#cf4000"/><rect x="444.00" y="352.00" width="11.00" height="1.00" fill="#d04600"/><rect x="444.00" y="351.00" width="11.00" height="1.00" fill="#d14c00"/><rect x="444.00" y="349.00" width="11.00" height="2.00" fill="#d35100"/><rect x="444.00" y="348.00" width="11.00" height="1.00" fill="#d45700"/><rect x="444.00" y="346.00" width="11.00" height="2.00" fill="#d55d00"/><rect x="444.00" y="344.00" width="11.00" height="2.00" fill="#d76200"/><rect x="444.00" y="342.00" width="11.00" height="2.00" fill="#d86800"/><rect x="444.00" y="339.00" width="11.00" height="3.00" fill="#d96e00"/><rect x="444.00" y="337.00" width="11.00" height="2.00" fill="#da7300"/><rect x="444.00" y="327.00" width="11.00" height="10.00" fill="#da7900"/><rect x="444.00" y="323.00" width="11.00" height="4.00" fill="#d97000"/><rect x="444.00" y="309.00" width="11.00" height="14.00" fill="#d86800"/><rect x="444.00" y="303.00" width="11.00" height="6.00" fill="#d45700"/><rect x="444.00" y="290.00" width="11.00" height="13.00" fill="#d04600"/><rect x="444.00" y="283.00" width="11.00" height="7.00" fill="#cc3500"/><rect x="444.00" y="274.00" width="11.00" height="9.00" fill="#c82400"/><rect x="444.00" y="265.00" width="11.00" height="9.00" fill="#be1200"/><rect x="444.00" y="244.00" width="11.00" height="21.00" fill="#b40000"/><rect x="444.00" y="150.00" width="11.00" height="94.00" fill="#a60000"/><rect x="444.00" y="128.00" width="11.00" height="22.00" fill="#be1200"/><rect x="444.00" y="103.00" width="11.00" height="25.00" fill="#d04600"/><rect x="444.00" y="77.00" width="11.00" height="26.00" fill="#da7900"/><rect x="444.00" y="49.00" width="11.00" height="28.00" fill="#e2ac00"/><rect x="455.00" y="356.00" width="12.00" height="0.00" fill="#cc3500"/><rect x="455.00" y="354.00" width="12.00" height="2.00" fill="#cd3b00"/><rect x="455.00" y="353.00" width="12.00" height="1.00" fill="#cf4000"/><rect x="455.00" y="352.00" width="12.00" height="1.00" fill="#d04600"/><rect x="455.00" y="351.00" width="12.00" height="1.00" fill="#d14c00"/><rect x="455.00" y="349.00" width="12.00" height="2.00" fill="#d35100"/><rect x="455.00" y="348.00" width="12.00" height="1.00" fill="#d45700"/><rect x="455.00" y="346.00" width="12.00" height="2.00" fill="#d55d00"/><rect x="455.00" y="344.00" width="12.00" height="2.00" fill="#d76200"/><rect x="455.00" y="342.00" width="12.00" height="2.00" fill="#d86800"/><rect x="455.00" y="339.00" width="12.00" height="3.00" fill="#d96e00"/><rect x="455.00" y="337.00" width="12.00" height="2.00" fill="#da7300"/><rect x="455.00" y="319.00" width="12.00" height="18.00" fill="#da7900"/><rect x="455.00" y="314.00" width="12.00" height="5.00" fill="#d97000"/><rect x="455.00" y="297.00" width="12.00" height="17.00" fill="#d86800"/><rect x="455.00" y="290.00" width="12.00" height="7.00" fill="#d45700"/><rect x="455.00" y="274.00" width="12.00" height="16.00" fill="#d04600"/><rect x="455.00" y="265.00" width="12.00" height="9.00" fill="#c82400"/><rect x="455.00" y="255.00" width="12.00" height="10.00" fill="#b90900"/><rect x="455.00" y="244.00" width="12.00" height="11.00" fill="#b40000"/><rect x="455.00" y="150.00" width="12.00" height="94.00" fill="#a60000"/><rect x="455.00" y="128.00" width="12.00" height="22.00" fill="#b40000"/><rect x="455.00" y="103.00" width="12.00" height="25.00" fill="#be1200"/><rect x="455.00" y="77.00" width="12.00" height="26.00" fill="#cc3500"/><rect x="455.00" y="49.00" width="12.00" height="28.00" fill="#d86800"/><rect x="467.00" y="356.00" width="11.00" height="0.00" fill="#c82400"/><rect x="467.00" y="354.00" width="11.00" height="2.00" fill="#c92a00"/><rect x="467.00" y="353.00" width="11.00" height="1.00" fill="#cb2f00"/><rect x="467.00" y="352.00" width="11.00" height="1.00" fill="#cc3500"/><rect x="467.00" y="351.00" width="11.00" height="1.00" fill="#cd3b00"/><rect x="467.00" y="349.00" width="11.00" height="2.00" fill="#cf4000"/><rect x="467.00" y="348.00" width="11.00" height="1.00" fill="#d04600"/><rect x="467.00" y="346.00" width="11.00" height="2.00" fill="#d14c00"/><rect x="467.00" y="344.00" width="11.00" height="2.00" fill="#d35100"/><rect x="467.00" y="342.00" width="11.00" height="2.00" fill="#d45700"/><rect x="467.00" y="339.00" width="11.00" height="3.00" fill="#d55d00"/><rect x="467.00" y="337.00" width="11.00" height="2.00" fill="#d76200"/><rect x="467.00" y="303.00" width="11.00" height="34.00" fill="#d86800"/><rect x="467.00" y="297.00" width="11.00" height="6.00" fill="#d45700"/><rect x="467.00" y="283.00" width="11.00" height="14.00" fill="#d04600"/><rect x="467.00" y="274.00" width="11.00" height="9.00" fill="#cc3500"/><rect x="467.00" y="265.00" width="11.00" height="9.00" fill="#c31b00"/><rect x="467.00" y="244.00" width="11.00" height="21.00" fill="#b40000"/><rect x="467.00" y="150.00" width="11.00" height="94.00" fill="#a60000"/><rect x="467.00" y="128.00" width="11.00" height="22.00" fill="#b40000"/><rect x="467.00" y="103.00" width="11.00" height="25.00" fill="#c31b00"/><rect x="467.00" y="77.00" width="11.00" height="26.00" fill="#d04600"/><rect x="467.00" y="49.00" width="11.00" height="28.00" fill="#da7900"/><rect x="478.00" y="352.00" width="11.00" height="4.00" fill="#d04600"/><rect x="478.00" y="351.00" width="11.00" height="1.00" fill="#d14c00"/><rect x="478.00" y="349.00" width="11.00" height="2.00" fill="#d35100"/><rect x="478.00" y="348.00" width="11.00" height="1.00" fill="#d45700"/><rect x="478.00" y="346.00" width="11.00" height="2.00" fill="#d55d00"/><rect x="478.00" y="344.00" width="11.00" height="2.00" fill="#d76200"/><rect x="478.00" y="342.00" width="11.00" height="2.00" fill="#d86800"/><rect x="478.00" y="339.00" width="11.00" height="3.00" fill="#d96e00"/><rect x="478.00" y="337.00" width="11.00" height="2.00" fill="#da7300"/><rect x="478.00" y="334.00" width="11.00" height="3.00" fill="#da7900"/><rect x="478.00" y="331.00" width="11.00" height="3.00" fill="#dc8200"/><rect x="478.00" y="319.00" width="11.00" height="12.00" fill="#dd8a00"/><rect x="478.00" y="314.00" width="11.00" height="5.00" fill="#dc8200"/><rect x="478.00" y="309.00" width="11.00" height="5.00" fill="#da7900"/><rect x="478.00" y="297.00" width="11.00" height="12.00" fill="#d86800"/><rect x="478.00" y="290.00" width="11.00" height="7.00" fill="#d45700"/><rect x="478.00" y="274.00" width="11.00" height="16.00" fill="#d04600"/><rect x="478.00" y="265.00" width="11.00" height="9.00" fill="#c82400"/><rect x="478.00" y="255.00" width="11.00" height="10.00" fill="#be1200"/><rect x="478.00" y="244.00" width="11.00" height="11.00" fill="#b90900"/><rect x="478.00" y="232.00" width="11.00" height="12.00" fill="#be1200"/><rect x="478.00" y="218.00" width="11.00" height="14.00" fill="#c31b00"/><rect x="478.00" y="204.00" width="11.00" height="14.00" fill="#cc3500"/><rect x="478.00" y="187.00" width="11.00" height="17.00" fill="#d04600"/><rect x="478.00" y="169.00" width="11.00" height="18.00" fill="#d86800"/><rect x="478.00" y="150.00" width="11.00" height="19.00" fill="#da7900"/><rect x="478.00" y="128.00" width="11.00" height="22.00" fill="#dd8a00"/><rect x="478.00" y="103.00" width="11.00" height="25.00" fill="#e2ac00"/><rect x="478.00" y="77.00" width="11.00" height="26.00" fill="#e8ce1b"/><rect x="478.00" y="49.00" width="11.00" height="28.00" fill="#eada24"/><rect x="489.00" y="356.00" width="11.00" height="0.00" fill="#be1200"/><rect x="489.00" y="354.00" width="11.00" height="2.00" fill="#c01500"/><rect x="489.00" y="353.00" width="11.00" height="1.00" fill="#c11800"/><rect x="489.00" y="348.00" width="11.00" height="5.00" fill="#c31b00"/><rect x="489.00" y="346.00" width="11.00" height="2.00" fill="#c51e00"/><rect x="489.00" y="344.00" width="11.00" height="2.00" fill="#c62100"/><rect x="489.00" y="319.00" width="11.00" height="25.00" fill="#c82400"/><rect x="489.00" y="314.00" width="11.00" height="5.00" fill="#ca2c00"/><rect x="489.00" y="309.00" width="11.00" height="5.00" fill="#cc3500"/><rect x="489.00" y="290.00" width="11.00" height="19.00" fill="#d04600"/><rect x="489.00" y="274.00" width="11.00" height="16.00" fill="#d45700"/><rect x="489.00" y="265.00" width="11.00" height="9.00" fill="#d86800"/><rect x="489.00" y="255.00" width="11.00" height="10.00" fill="#da7900"/><rect x="489.00" y="232.00" width="11.00" height="23.00" fill="#dd8a00"/><rect x="489.00" y="218.00" width="11.00" height="14.00" fill="#e09b00"/><rect x="489.00" y="169.00" width="11.00" height="49.00" fill="#e2ac00"/><rect x="489.00" y="150.00" width="11.00" height="19.00" fill="#e4b809"/><rect x="489.00" y="103.00" width="11.00" height="47.00" fill="#e6c312"/><rect x="489.00" y="49.00" width="11.00" height="54.00" fill="#e8ce1b"/><rect x="500.00" y="348.00" width="12.00" height="8.00" fill="#be1200"/><rect x="500.00" y="346.00" width="12.00" height="2.00" fill="#bc0f00"/><rect x="500.00" y="344.00" width="12.00" height="2.00" fill="#bb0c00"/><rect x="500.00" y="342.00" width="12.00" height="2.00" fill="#b90900"/><rect x="500.00" y="339.00" width="12.00" height="3.00" fill="#b70600"/><rect x="500.00" y="337.00" width="12.00" height="2.00" fill="#b60300"/><rect x="500.00" y="265.00" width="12.00" height="72.00" fill="#b40000"/><rect x="500.00" y="255.00" width="12.00" height="10.00" fill="#be1200"/><rect x="500.00" y="244.00" width="12.00" height="11.00" fill="#c82400"/><rect x="500.00" y="218.00" width="12.00" height="26.00" fill="#d04600"/><rect x="500.00" y="204.00" width="12.00" height="14.00" fill="#d86800"/><rect x="500.00" y="187.00" width="12.00" height="17.00" fill="#da7900"/><rect x="500.00" y="150.00" width="12.00" height="37.00" fill="#dd8a00"/><rect x="500.00" y="128.00" width="12.00" height="22.00" fill="#e2ac00"/><rect x="500.00" y="103.00" width="12.00" height="25.00" fill="#e4b809"/><rect x="500.00" y="49.00" width="12.00" height="54.00" fill="#e6c312"/><rect x="512.00" y="352.00" width="11.00" height="4.00" fill="#b90900"/><rect x="512.00" y="351.00" width="11.00" height="1.00" fill="#bb0c00"/><rect x="512.00" y="349.00" width="11.00" height="2.00" fill="#bc0f00"/><rect x="512.00" y="342.00" width="11.00" height="7.00" fill="#be1200"/><rect x="512.00" y="339.00" width="11.00" height="3.00" fill="#c01500"/><rect x="512.00" y="337.00" width="11.00" height="2.00" fill="#c11800"/><rect x="512.00" y="334.00" width="11.00" height="3.00" fill="#c31b00"/><rect x="512.00" y="331.00" width="11.00" height="3.00" fill="#c62000"/><rect x="512.00" y="319.00" width="11.00" height="12.00" fill="#c82400"/><rect x="512.00" y="314.00" width="11.00" height="5.00" fill="#ca2c00"/><rect x="512.00" y="309.00" width="11.00" height="5.00" fill="#cc3500"/><rect x="512.00" y="274.00" width="11.00" height="35.00" fill="#d04600"/><rect x="512.00" y="265.00" width="11.00" height="9.00" fill="#cc3500"/><rect x="512.00" y="244.00" width="11.00" height="21.00" fill="#c31b00"/><rect x="512.00" y="232.00" width="11.00" height="12.00" fill="#c82400"/><rect x="512.00" y="218.00" width="11.00" height="14.00" fill="#cc3500"/><rect x="512.00" y="187.00" width="11.00" height="31.00" fill="#d04600"/><rect x="512.00" y="169.00" width="11.00" height="18.00" fill="#d45700"/><rect x="512.00" y="150.00" width="11.00" height="19.00" fill="#d86800"/><rect x="512.00" y="128.00" width="11.00" height="22.00" fill="#da7900"/><rect x="512.00" y="103.00" width="11.00" height="25.00" fill="#e09b00"/><rect x="512.00" y="77.00" width="11.00" height="26.00" fill="#e6c312"/><rect x="512.00" y="49.00" width="11.00" height="28.00" fill="#e8ce1b"/><rect x="523.00" y="348.00" width="11.00" height="8.00" fill="#b90900"/><rect x="523.00" y="346.00" width="11.00" height="2.00" fill="#bb0c00"/><rect x="523.00" y="344.00" width="11.00" height="2.00" fill="#bc0f00"/><rect x="523.00" y="309.00" width="11.00" height="35.00" fill="#be1200"/><rect x="523.00" y="297.00" width="11.00" height="12.00" fill="#c31b00"/><rect x="523.00" y="283.00" width="11.00" height="14.00" fill="#c82400"/><rect x="523.00" y="255.00" width="11.00" height="28.00" fill="#c31b00"/><rect x="523.00" y="204.00" width="11.00" height="51.00" fill="#c82400"/><rect x="523.00" y="187.00" width="11.00" height="17.00" fill="#cc3500"/><rect x="523.00" y="169.00" width="11.00" height="18.00" fill="#d04600"/><rect x="523.00" y="150.00" width="11.00" height="19.00" fill="#d45700"/><rect x="523.00" y="128.00" width="11.00" height="22.00" fill="#d86800"/><rect x="523.00" y="103.00" width="11.00" height="25.00" fill="#e09b00"/><rect x="523.00" y="77.00" width="11.00" height="26.00" fill="#eada24"/><rect x="523.00" y="49.00" width="11.00" height="28.00" fill="#c9f36d"/><rect x="534.00" y="348.00" width="11.00" height="8.00" fill="#b40000"/><rect x="534.00" y="346.00" width="11.00" height="2.00" fill="#b60300"/><rect x="534.00" y="344.00" width="11.00" height="2.00" fill="#b70600"/><rect x="534.00" y="342.00" width="11.00" height="2.00" fill="#b90900"/><rect x="534.00" y="339.00" width="11.00" height="3.00" fill="#bb0c00"/><rect x="534.00" y="337.00" width="11.00" height="2.00" fill="#bc0f00"/><rect x="534.00" y="319.00" width="11.00" height="18.00" fill="#be1200"/><rect x="534.00" y="314.00" width="11.00" height="5.00" fill="#c01600"/><rect x="534.00" y="297.00" width="11.00" height="17.00" fill="#c31b00"/><rect x="534.00" y="274.00" width="11.00" height="23.00" fill="#be1200"/><rect x="534.00" y="265.00" width="11.00" height="9.00" fill="#b90900"/><rect x="534.00" y="218.00" width="11.00" height="47.00" fill="#b40000"/><rect x="534.00" y="204.00" width="11.00" height="14.00" fill="#c31b00"/><rect x="534.00" y="187.00" width="11.00" height="17.00" fill="#d86800"/><rect x="534.00" y="169.00" width="11.00" height="18.00" fill="#e4b809"/><rect x="534.00" y="150.00" width="11.00" height="19.00" fill="#e3fd64"/><rect x="534.00" y="128.00" width="11.00" height="22.00" fill="#93db80"/><rect x="534.00" y="103.00" width="11.00" height="25.00" fill="#65c490"/><rect x="534.00" y="77.00" width="11.00" height="26.00" fill="#40aca2"/><rect x="534.00" y="49.00" width="11.00" height="28.00" fill="#2da0ab"/><rect x="545.00" y="342.00" width="11.00" height="14.00" fill="#b40000"/><rect x="545.00" y="339.00" width="11.00" height="3.00" fill="#b60300"/><rect x="545.00" y="337.00" width="11.00" height="2.00" fill="#b70600"/><rect x="545.00" y="334.00" width="11.00" height="3.00" fill="#b90900"/><rect x="545.00" y="331.00" width="11.00" height="3.00" fill="#bc0e00"/><rect x="545.00" y="297.00" width="11.00" height="34.00" fill="#be1200"/><rect x="545.00" y="290.00" width="11.00" height="7.00" fill="#b90900"/><rect x="545.00" y="283.00" width="11.00" height="7.00" fill="#b40000"/><rect x="545.00" y="274.00" width="11.00" height="9.00" fill="#b90900"/><rect x="545.00" y="255.00" width="11.00" height="19.00" fill="#b40000"/><rect x="545.00" y="218.00" width="11.00" height="37.00" fill="#a60000"/><rect x="545.00" y="204.00" width="11.00" height="14.00" fill="#b40000"/><rect x="545.00" y="187.00" width="11.00" height="17.00" fill="#c31b00"/><rect x="545.00" y="169.00" width="11.00" height="18.00" fill="#d86800"/><rect x="545.00" y="150.00" width="11.00" height="19.00" fill="#e2ac00"/><rect x="545.00" y="128.00" width="11.00" height="22.00" fill="#d6f868"/><rect x="545.00" y="103.00" width="11.00" height="25.00" fill="#93db80"/><rect x="545.00" y="77.00" width="11.00" height="26.00" fill="#65c490"/><rect x="545.00" y="49.00" width="11.00" height="28.00" fill="#40aca2"/><rect x="556.00" y="352.00" width="12.00" height="4.00" fill="#b90900"/><rect x="556.00" y="351.00" width="12.00" height="1.00" fill="#bb0c00"/><rect x="556.00" y="349.00" width="12.00" height="2.00" fill="#bc0f00"/><rect x="556.00" y="334.00" width="12.00" height="15.00" fill="#be1200"/><rect x="556.00" y="331.00" width="12.00" height="3.00" fill="#c01600"/><rect x="556.00" y="319.00" width="12.00" height="12.00" fill="#c31b00"/><rect x="556.00" y="314.00" width="12.00" height="5.00" fill="#c62000"/><rect x="556.00" y="265.00" width="12.00" height="49.00" fill="#c82400"/><rect x="556.00" y="232.00" width="12.00" height="33.00" fill="#cc3500"/><rect x="556.00" y="204.00" width="12.00" height="28.00" fill="#d04600"/><rect x="556.00" y="150.00" width="12.00" height="54.00" fill="#d86800"/><rect x="556.00" y="128.00" width="12.00" height="22.00" fill="#da7900"/><rect x="556.00" y="77.00" width="12.00" height="51.00" fill="#dd8a00"/><rect x="556.00" y="49.00" width="12.00" height="28.00" fill="#e09b00"/><rect x="568.00" y="342.00" width="11.00" height="14.00" fill="#be1200"/><rect x="568.00" y="339.00" width="11.00" height="3.00" fill="#c01500"/><rect x="568.00" y="337.00" width="11.00" height="2.00" fill="#c11800"/><rect x="568.00" y="327.00" width="11.00" height="10.00" fill="#c31b00"/><rect x="568.00" y="323.00" width="11.00" height="4.00" fill="#c62000"/><rect x="568.00" y="303.00" width="11.00" height="20.00" fill="#c82400"/><rect x="568.00" y="290.00" width="11.00" height="13.00" fill="#cc3500"/><rect x="568.00" y="265.00" width="11.00" height="25.00" fill="#d04600"/><rect x="568.00" y="255.00" width="11.00" height="10.00" fill="#d45700"/><rect x="568.00" y="244.00" width="11.00" height="11.00" fill="#d86800"/><rect x="568.00" y="218.00" width="11.00" height="26.00" fill="#da7900"/><rect x="568.00" y="204.00" width="11.00" height="14.00" fill="#dd8a00"/><rect x="568.00" y="187.00" width="11.00" height="17.00" fill="#e2ac00"/><rect x="568.00" y="169.00" width="11.00" height="18.00" fill="#e4b809"/><rect x="568.00" y="150.00" width="11.00" height="19.00" fill="#e8ce1b"/><rect x="568.00" y="103.00" width="11.00" height="47.00" fill="#eada24"/><rect x="568.00" y="77.00" width="11.00" height="26.00" fill="#e8ce1b"/><rect x="568.00" y="49.00" width="11.00" height="28.00" fill="#e6c312"/><rect x="579.00" y="356.00" width="11.00" height="0.00" fill="#c31b00"/><rect x="579.00" y="354.00" width="11.00" height="2.00" fill="#c11800"/><rect x="579.00" y="353.00" width="11.00" height="1.00" fill="#c01500"/><rect x="579.00" y="352.00" width="11.00" height="1.00" fill="#be1200"/><rect x="579.00" y="351.00" width="11.00" height="1.00" fill="#bc0f00"/><rect x="579.00" y="349.00" width="11.00" height="2.00" fill="#bb0c00"/><rect x="579.00" y="348.00" width="11.00" height="1.00" fill="#b90900"/><rect x="579.00" y="346.00" width="11.00" height="2.00" fill="#b70600"/><rect x="579.00" y="344.00" width="11.00" height="2.00" fill="#b60300"/><rect x="579.00" y="303.00" width="11.00" height="41.00" fill="#b40000"/><rect x="579.00" y="290.00" width="11.00" height="13.00" fill="#b90900"/><rect x="579.00" y="244.00" width="11.00" height="46.00" fill="#be1200"/><rect x="579.00" y="232.00" width="11.00" height="12.00" fill="#c31b00"/><rect x="579.00" y="218.00" width="11.00" height="14.00" fill="#cc3500"/><rect x="579.00" y="204.00" width="11.00" height="14.00" fill="#d86800"/><rect x="579.00" y="187.00" width="11.00" height="17.00" fill="#e2ac00"/><rect x="579.00" y="169.00" width="11.00" height="18.00" fill="#e9ef47"/><rect x="579.00" y="150.00" width="11.00" height="19.00" fill="#93db80"/><rect x="579.00" y="128.00" width="11.00" height="22.00" fill="#40aca2"/><rect x="579.00" y="103.00" width="11.00" height="25.00" fill="#0d82bd"/><rect x="579.00" y="49.00" width="11.00" height="54.00" fill="#0679c2"/><rect x="590.00" y="356.00" width="11.00" height="0.00" fill="#d04600"/><rect x="590.00" y="354.00" width="11.00" height="2.00" fill="#cd3b00"/><rect x="590.00" y="353.00" width="11.00" height="1.00" fill="#cb2f00"/><rect x="590.00" y="352.00" width="11.00" height="1.00" fill="#c82400"/><rect x="590.00" y="351.00" width="11.00" height="1.00" fill="#c51e00"/><rect x="590.00" y="349.00" width="11.00" height="2.00" fill="#c11800"/><rect x="590.00" y="348.00" width="11.00" height="1.00" fill="#be1200"/><rect x="590.00" y="346.00" width="11.00" height="2.00" fill="#bc0f00"/><rect x="590.00" y="344.00" width="11.00" height="2.00" fill="#bb0c00"/><rect x="590.00" y="342.00" width="11.00" height="2.00" fill="#b90900"/><rect x="590.00" y="339.00" width="11.00" height="3.00" fill="#b70600"/><rect x="590.00" y="337.00" width="11.00" height="2.00" fill="#b60300"/><rect x="590.00" y="232.00" width="11.00" height="105.00" fill="#b40000"/><rect x="590.00" y="218.00" width="11.00" height="14.00" fill="#d04600"/><rect x="590.00" y="204.00" width="11.00" height="14.00" fill="#e09b00"/><rect x="590.00" y="187.00" width="11.00" height="17.00" fill="#e9ef47"/><rect x="590.00" y="169.00" width="11.00" height="18.00" fill="#75cc8a"/><rect x="590.00" y="128.00" width="11.00" height="41.00" fill="#158bb8"/><rect x="590.00" y="103.00" width="11.00" height="25.00" fill="#0d82bd"/><rect x="590.00" y="49.00" width="11.00" height="54.00" fill="#0679c2"/><rect x="601.00" y="356.00" width="12.00" height="0.00" fill="#da7900"/><rect x="601.00" y="354.00" width="12.00" height="2.00" fill="#da7300"/><rect x="601.00" y="353.00" width="12.00" height="1.00" fill="#d96e00"/><rect x="601.00" y="352.00" width="12.00" height="1.00" fill="#d86800"/><rect x="601.00" y="351.00" width="12.00" height="1.00" fill="#d55d00"/><rect x="601.00" y="349.00" width="12.00" height="2.00" fill="#d35100"/><rect x="601.00" y="348.00" width="12.00" height="1.00" fill="#d04600"/><rect x="601.00" y="346.00" width="12.00" height="2.00" fill="#cf4000"/><rect x="601.00" y="344.00" width="12.00" height="2.00" fill="#cd3b00"/><rect x="601.00" y="342.00" width="12.00" height="2.00" fill="#cc3500"/><rect x="601.00" y="339.00" width="12.00" height="3.00" fill="#c92a00"/><rect x="601.00" y="337.00" width="12.00" height="2.00" fill="#c62100"/><rect x="601.00" y="334.00" width="12.00" height="3.00" fill="#c31b00"/><rect x="601.00" y="331.00" width="12.00" height="3.00" fill="#c01600"/><rect x="601.00" y="327.00" width="12.00" height="4.00" fill="#be1200"/><rect x="601.00" y="323.00" width="12.00" height="4.00" fill="#bc0e00"/><rect x="601.00" y="319.00" width="12.00" height="4.00" fill="#b90900"/><rect x="601.00" y="314.00" width="12.00" height="5.00" fill="#b60400"/><rect x="601.00" y="232.00" width="12.00" height="82.00" fill="#b40000"/><rect x="601.00" y="218.00" width="12.00" height="14.00" fill="#c82400"/><rect x="601.00" y="204.00" width="12.00" height="14.00" fill="#d86800"/><rect x="601.00" y="187.00" width="12.00" height="17.00" fill="#e6c312"/><rect x="601.00" y="169.00" width="12.00" height="18.00" fill="#e3fd64"/><rect x="601.00" y="150.00" width="12.00" height="19.00" fill="#93db80"/><rect x="601.00" y="128.00" width="12.00" height="22.00" fill="#2da0ab"/><rect x="601.00" y="49.00" width="12.00" height="79.00" fill="#0679c2"/><rect x="613.00" y="356.00" width="11.00" height="0.00" fill="#dd8a00"/><rect x="613.00" y="354.00" width="11.00" height="2.00" fill="#dc8400"/><rect x="613.00" y="353.00" width="11.00" height="1.00" fill="#db7f00"/><rect x="613.00" y="352.00" width="11.00" height="1.00" fill="#da7900"/><rect x="613.00" y="351.00" width="11.00" height="1.00" fill="#da7300"/><rect x="613.00" y="349.00" width="11.00" height="2.00" fill="#d96e00"/><rect x="613.00" y="348.00" width="11.00" height="1.00" fill="#d86800"/><rect x="613.00" y="346.00" width="11.00" height="2.00" fill="#d55d00"/><rect x="613.00" y="344.00" width="11.00" height="2.00" fill="#d35100"/><rect x="613.00" y="342.00" width="11.00" height="2.00" fill="#d04600"/><rect x="613.00" y="339.00" width="11.00" height="3.00" fill="#cf4000"/><rect x="613.00" y="337.00" width="11.00" height="2.00" fill="#cd3b00"/><rect x="613.00" y="334.00" width="11.00" height="3.00" fill="#cc3500"/><rect x="613.00" y="331.00" width="11.00" height="3.00" fill="#c82400"/><rect x="613.00" y="327.00" width="11.00" height="4.00" fill="#c31b00"/><rect x="613.00" y="323.00" width="11.00" height="4.00" fill="#c01600"/><rect x="613.00" y="319.00" width="11.00" height="4.00" fill="#be1200"/><rect x="613.00" y="314.00" width="11.00" height="5.00" fill="#bc0e00"/><rect x="613.00" y="309.00" width="11.00" height="5.00" fill="#b90900"/><rect x="613.00" y="232.00" width="11.00" height="77.00" fill="#b40000"/><rect x="613.00" y="218.00" width="11.00" height="14.00" fill="#c82400"/><rect x="613.00" y="204.00" width="11.00" height="14.00" fill="#d45700"/><rect x="613.00" y="187.00" width="11.00" height="17.00" fill="#e09b00"/><rect x="613.00" y="169.00" width="11.00" height="18.00" fill="#eada24"/><rect x="613.00" y="150.00" width="11.00" height="19.00" fill="#c9f36d"/><rect x="613.00" y="128.00" width="11.00" height="22.00" fill="#75cc8a"/><rect x="613.00" y="103.00" width="11.00" height="25.00" fill="#40aca2"/><rect x="613.00" y="77.00" width="11.00" height="26.00" fill="#2da0ab"/><rect x="613.00" y="49.00" width="11.00" height="28.00" fill="#158bb8"/><rect x="624.00" y="356.00" width="11.00" height="0.00" fill="#d86800"/><rect x="624.00" y="354.00" width="11.00" height="2.00" fill="#d76200"/><rect x="624.00" y="353.00" width="11.00" height="1.00" fill="#d55d00"/><rect x="624.00" y="352.00" width="11.00" height="1.00" fill="#d45700"/><rect x="624.00" y="351.00" width="11.00" height="1.00" fill="#d35100"/><rect x="624.00" y="349.00" width="11.00" height="2.00" fill="#d14c00"/><rect x="624.00" y="348.00" width="11.00" height="1.00" fill="#d04600"/><rect x="624.00" y="346.00" width="11.00" height="2.00" fill="#cd3b00"/><rect x="624.00" y="344.00" width="11.00" height="2.00" fill="#cb2f00"/><rect x="624.00" y="342.00" width="11.00" height="2.00" fill="#c82400"/><rect x="624.00" y="339.00" width="11.00" height="3.00" fill="#c51e00"/><rect x="624.00" y="337.00" width="11.00" height="2.00" fill="#c11800"/><rect x="624.00" y="334.00" width="11.00" height="3.00" fill="#be1200"/><rect x="624.00" y="331.00" width="11.00" height="3.00" fill="#bc0e00"/><rect x="624.00" y="327.00" width="11.00" height="4.00" fill="#b90900"/><rect x="624.00" y="323.00" width="11.00" height="4.00" fill="#b60400"/><rect x="624.00" y="303.00" width="11.00" height="20.00" fill="#b40000"/><rect x="624.00" y="283.00" width="11.00" height="20.00" fill="#a60000"/><rect x="624.00" y="274.00" width="11.00" height="9.00" fill="#b40000"/><rect x="624.00" y="232.00" width="11.00" height="42.00" fill="#a60000"/><rect x="624.00" y="218.00" width="11.00" height="14.00" fill="#c82400"/><rect x="624.00" y="204.00" width="11.00" height="14.00" fill="#e4b809"/><rect x="624.00" y="187.00" width="11.00" height="17.00" fill="#93db80"/><rect x="624.00" y="77.00" width="11.00" height="110.00" fill="#0679c2"/><rect x="624.00" y="49.00" width="11.00" height="28.00" fill="#0d82bd"/><rect x="635.00" y="356.00" width="11.00" height="0.00" fill="#da7900"/><rect x="635.00" y="354.00" width="11.00" height="2.00" fill="#da7300"/><rect x="635.00" y="353.00" width="11.00" height="1.00" fill="#d96e00"/><rect x="635.00" y="352.00" width="11.00" height="1.00" fill="#d86800"/><rect x="635.00" y="351.00" width="11.00" height="1.00" fill="#d55d00"/><rect x="635.00" y="349.00" width="11.00" height="2.00" fill="#d35100"/><rect x="635.00" y="348.00" width="11.00" height="1.00" fill="#d04600"/><rect x="635.00" y="346.00" width="11.00" height="2.00" fill="#cd3b00"/><rect x="635.00" y="344.00" width="11.00" height="2.00" fill="#cb2f00"/><rect x="635.00" y="342.00" width="11.00" height="2.00" fill="#c82400"/><rect x="635.00" y="339.00" width="11.00" height="3.00" fill="#c51e00"/><rect x="635.00" y="337.00" width="11.00" height="2.00" fill="#c11800"/><rect x="635.00" y="334.00" width="11.00" height="3.00" fill="#be1200"/><rect x="635.00" y="331.00" width="11.00" height="3.00" fill="#bc0e00"/><rect x="635.00" y="327.00" width="11.00" height="4.00" fill="#b90900"/><rect x="635.00" y="323.00" width="11.00" height="4.00" fill="#b60400"/><rect x="635.00" y="255.00" width="11.00" height="68.00" fill="#b40000"/><rect x="635.00" y="244.00" width="11.00" height="11.00" fill="#c31b00"/><rect x="635.00" y="232.00" width="11.00" height="12.00" fill="#d04600"/><rect x="635.00" y="218.00" width="11.00" height="14.00" fill="#e09b00"/><rect x="635.00" y="204.00" width="11.00" height="14.00" fill="#eada24"/><rect x="635.00" y="187.00" width="11.00" height="17.00" fill="#afe876"/><rect x="635.00" y="169.00" width="11.00" height="18.00" fill="#52b899"/><rect x="635.00" y="150.00" width="11.00" height="19.00" fill="#158bb8"/><rect x="635.00" y="49.00" width="11.00" height="101.00" fill="#0d82bd"/><rect x="646.00" y="356.00" width="12.00" height="0.00" fill="#e2ac00"/><rect x="646.00" y="354.00" width="12.00" height="2.00" fill="#e1a600"/><rect x="646.00" y="353.00" width="12.00" height="1.00" fill="#e0a100"/><rect x="646.00" y="352.00" width="12.00" height="1.00" fill="#e09b00"/><rect x="646.00" y="351.00" width="12.00" height="1.00" fill="#de9000"/><rect x="646.00" y="349.00" width="12.00" height="2.00" fill="#dc8400"/><rect x="646.00" y="348.00" width="12.00" height="1.00" fill="#da7900"/><rect x="646.00" y="346.00" width="12.00" height="2.00" fill="#d96e00"/><rect x="646.00" y="344.00" width="12.00" height="2.00" fill="#d76200"/><rect x="646.00" y="342.00" width="12.00" height="2.00" fill="#d45700"/><rect x="646.00" y="339.00" width="12.00" height="3.00" fill="#d35100"/><rect x="646.00" y="337.00" width="12.00" height="2.00" fill="#d14c00"/><rect x="646.00" y="334.00" width="12.00" height="3.00" fill="#d04600"/><rect x="646.00" y="331.00" width="12.00" height="3.00" fill="#cc3500"/><rect x="646.00" y="327.00" width="12.00" height="4.00" fill="#c82400"/><rect x="646.00" y="323.00" width="12.00" height="4.00" fill="#c62000"/><rect x="646.00" y="319.00" width="12.00" height="4.00" fill="#c31b00"/><rect x="646.00" y="314.00" width="12.00" height="5.00" fill="#be1200"/><rect x="646.00" y="274.00" width="12.00" height="40.00" fill="#b90900"/><rect x="646.00" y="265.00" width="12.00" height="9.00" fill="#be1200"/><rect x="646.00" y="255.00" width="12.00" height="10.00" fill="#c82400"/><rect x="646.00" y="244.00" width="12.00" height="11.00" fill="#d04600"/><rect x="646.00" y="232.00" width="12.00" height="12.00" fill="#d86800"/><rect x="646.00" y="218.00" width="12.00" height="14.00" fill="#e09b00"/><rect x="646.00" y="204.00" width="12.00" height="14.00" fill="#e8ce1b"/><rect x="646.00" y="187.00" width="12.00" height="17.00" fill="#e3fd64"/><rect x="646.00" y="169.00" width="12.00" height="18.00" fill="#93db80"/><rect x="646.00" y="150.00" width="12.00" height="19.00" fill="#52b899"/><rect x="646.00" y="128.00" width="12.00" height="22.00" fill="#158bb8"/><rect x="646.00" y="49.00" width="12.00" height="79.00" fill="#0679c2"/><rect x="658.00" y="356.00" width="11.00" height="0.00" fill="#e2ac00"/><rect x="658.00" y="354.00" width="11.00" height="2.00" fill="#e1a600"/><rect x="658.00" y="353.00" width="11.00" height="1.00" fill="#e0a100"/><rect x="658.00" y="352.00" width="11.00" height="1.00" fill="#e09b00"/><rect x="658.00" y="351.00" width="11.00" height="1.00" fill="#df9500"/><rect x="658.00" y="349.00" width="11.00" height="2.00" fill="#de9000"/><rect x="658.00" y="348.00" width="11.00" height="1.00" fill="#dd8a00"/><rect x="658.00" y="346.00" width="11.00" height="2.00" fill="#dc8400"/><rect x="658.00" y="344.00" width="11.00" height="2.00" fill="#db7f00"/><rect x="658.00" y="342.00" width="11.00" height="2.00" fill="#da7900"/><rect x="658.00" y="339.00" width="11.00" height="3.00" fill="#da7300"/><rect x="658.00" y="337.00" width="11.00" height="2.00" fill="#d96e00"/><rect x="658.00" y="334.00" width="11.00" height="3.00" fill="#d86800"/><rect x="658.00" y="331.00" width="11.00" height="3.00" fill="#d45700"/><rect x="658.00" y="319.00" width="11.00" height="12.00" fill="#d04600"/><rect x="658.00" y="314.00" width="11.00" height="5.00" fill="#cc3500"/><rect x="658.00" y="309.00" width="11.00" height="5.00" fill="#c82400"/><rect x="658.00" y="290.00" width="11.00" height="19.00" fill="#c31b00"/><rect x="658.00" y="274.00" width="11.00" height="16.00" fill="#be1200"/><rect x="658.00" y="265.00" width="11.00" height="9.00" fill="#c31b00"/><rect x="658.00" y="255.00" width="11.00" height="10.00" fill="#c82400"/><rect x="658.00" y="244.00" width="11.00" height="11.00" fill="#d04600"/><rect x="658.00" y="232.00" width="11.00" height="12.00" fill="#d86800"/><rect x="658.00" y="218.00" width="11.00" height="14.00" fill="#dd8a00"/><rect x="658.00" y="204.00" width="11.00" height="14.00" fill="#eada24"/><rect x="658.00" y="187.00" width="11.00" height="17.00" fill="#c9f36d"/><rect x="658.00" y="169.00" width="11.00" height="18.00" fill="#84d485"/><rect x="658.00" y="150.00" width="11.00" height="19.00" fill="#52b899"/><rect x="658.00" y="103.00" width="11.00" height="47.00" fill="#2da0ab"/><rect x="658.00" y="77.00" width="11.00" height="26.00" fill="#158bb8"/><rect x="658.00" y="49.00" width="11.00" height="28.00" fill="#0679c2"/><rect x="669.00" y="352.00" width="11.00" height="4.00" fill="#dd8a00"/><rect x="669.00" y="351.00" width="11.00" height="1.00" fill="#dc8400"/><rect x="669.00" y="349.00" width="11.00" height="2.00" fill="#db7f00"/><rect x="669.00" y="348.00" width="11.00" height="1.00" fill="#da7900"/><rect x="669.00" y="346.00" width="11.00" height="2.00" fill="#da7300"/><rect x="669.00" y="344.00" width="11.00" height="2.00" fill="#d96e00"/><rect x="669.00" y="342.00" width="11.00" height="2.00" fill="#d86800"/><rect x="669.00" y="339.00" width="11.00" height="3.00" fill="#d55d00"/><rect x="669.00" y="337.00" width="11.00" height="2.00" fill="#d35100"/><rect x="669.00" y="327.00" width="11.00" height="10.00" fill="#d04600"/><rect x="669.00" y="323.00" width="11.00" height="4.00" fill="#ce3e00"/><rect x="669.00" y="319.00" width="11.00" height="4.00" fill="#cc3500"/><rect x="669.00" y="314.00" width="11.00" height="5.00" fill="#c82400"/><rect x="669.00" y="303.00" width="11.00" height="11.00" fill="#c31b00"/><rect x="669.00" y="297.00" width="11.00" height="6.00" fill="#be1200"/><rect x="669.00" y="274.00" width="11.00" height="23.00" fill="#b90900"/><rect x="669.00" y="265.00" width="11.00" height="9.00" fill="#be1200"/><rect x="669.00" y="255.00" width="11.00" height="10.00" fill="#c31b00"/><rect x="669.00" y="244.00" width="11.00" height="11.00" fill="#c82400"/><rect x="669.00" y="232.00" width="11.00" height="12.00" fill="#d04600"/><rect x="669.00" y="218.00" width="11.00" height="14.00" fill="#d86800"/><rect x="669.00" y="204.00" width="11.00" height="14.00" fill="#e4b809"/><rect x="669.00" y="187.00" width="11.00" height="17.00" fill="#e3fd64"/><rect x="669.00" y="169.00" width="11.00" height="18.00" fill="#75cc8a"/><rect x="669.00" y="77.00" width="11.00" height="92.00" fill="#158bb8"/><rect x="669.00" y="49.00" width="11.00" height="28.00" fill="#1c94b3"/><rect x="680.00" y="352.00" width="11.00" height="4.00" fill="#eada24"/><rect x="680.00" y="351.00" width="11.00" height="1.00" fill="#e9d621"/><rect x="680.00" y="349.00" width="11.00" height="2.00" fill="#e9d21e"/><rect x="680.00" y="348.00" width="11.00" height="1.00" fill="#e8ce1b"/><rect x="680.00" y="346.00" width="11.00" height="2.00" fill="#e7cb18"/><rect x="680.00" y="344.00" width="11.00" height="2.00" fill="#e7c715"/><rect x="680.00" y="342.00" width="11.00" height="2.00" fill="#e6c312"/><rect x="680.00" y="339.00" width="11.00" height="3.00" fill="#e5bf0f"/><rect x="680.00" y="337.00" width="11.00" height="2.00" fill="#e5bb0c"/><rect x="680.00" y="334.00" width="11.00" height="3.00" fill="#e4b809"/><rect x="680.00" y="331.00" width="11.00" height="3.00" fill="#e3b204"/><rect x="680.00" y="327.00" width="11.00" height="4.00" fill="#e2ac00"/><rect x="680.00" y="323.00" width="11.00" height="4.00" fill="#e1a400"/><rect x="680.00" y="319.00" width="11.00" height="4.00" fill="#e09b00"/><rect x="680.00" y="314.00" width="11.00" height="5.00" fill="#dd8a00"/><rect x="680.00" y="309.00" width="11.00" height="5.00" fill="#da7900"/><rect x="680.00" y="303.00" width="11.00" height="6.00" fill="#d45700"/><rect x="680.00" y="297.00" width="11.00" height="6.00" fill="#d04600"/><rect x="680.00" y="290.00" width="11.00" height="7.00" fill="#cc3500"/><rect x="680.00" y="283.00" width="11.00" height="7.00" fill="#c31b00"/><rect x="680.00" y="274.00" width="11.00" height="9.00" fill="#be1200"/><rect x="680.00" y="204.00" width="11.00" height="70.00" fill="#b40000"/><rect x="680.00" y="187.00" width="11.00" height="17.00" fill="#c31b00"/><rect x="680.00" y="169.00" width="11.00" height="18.00" fill="#d86800"/><rect x="680.00" y="150.00" width="11.00" height="19.00" fill="#e2ac00"/><rect x="680.00" y="128.00" width="11.00" height="22.00" fill="#e3fd64"/><rect x="680.00" y="103.00" width="11.00" height="25.00" fill="#93db80"/><rect x="680.00" y="77.00" width="11.00" height="26.00" fill="#40aca2"/><rect x="680.00" y="49.00" width="11.00" height="28.00" fill="#0679c2"/><rect x="691.00" y="356.00" width="11.00" height="0.00" fill="#e4b809"/><rect x="691.00" y="354.00" width="11.00" height="2.00" fill="#e3b406"/><rect x="691.00" y="353.00" width="11.00" height="1.00" fill="#e3b003"/><rect x="691.00" y="352.00" width="11.00" height="1.00" fill="#e2ac00"/><rect x="691.00" y="351.00" width="11.00" height="1.00" fill="#e1a600"/><rect x="691.00" y="349.00" width="11.00" height="2.00" fill="#e0a100"/><rect x="691.00" y="348.00" width="11.00" height="1.00" fill="#e09b00"/><rect x="691.00" y="346.00" width="11.00" height="2.00" fill="#df9500"/><rect x="691.00" y="344.00" width="11.00" height="2.00" fill="#de9000"/><rect x="691.00" y="342.00" width="11.00" height="2.00" fill="#dd8a00"/><rect x="691.00" y="339.00" width="11.00" height="3.00" fill="#db7f00"/><rect x="691.00" y="337.00" width="11.00" height="2.00" fill="#da7300"/><rect x="691.00" y="334.00" width="11.00" height="3.00" fill="#d86800"/><rect x="691.00" y="331.00" width="11.00" height="3.00" fill="#d45700"/><rect x="691.00" y="319.00" width="11.00" height="12.00" fill="#d04600"/><rect x="691.00" y="314.00" width="11.00" height="5.00" fill="#ca2c00"/><rect x="691.00" y="309.00" width="11.00" height="5.00" fill="#c31b00"/><rect x="691.00" y="303.00" width="11.00" height="6.00" fill="#be1200"/><rect x="691.00" y="297.00" width="11.00" height="6.00" fill="#b90900"/><rect x="691.00" y="290.00" width="11.00" height="7.00" fill="#b40000"/><rect x="691.00" y="283.00" width="11.00" height="7.00" fill="#ad0000"/><rect x="691.00" y="274.00" width="11.00" height="9.00" fill="#be1200"/><rect x="691.00" y="265.00" width="11.00" height="9.00" fill="#b90900"/><rect x="691.00" y="232.00" width="11.00" height="33.00" fill="#b40000"/><rect x="691.00" y="218.00" width="11.00" height="14.00" fill="#be1200"/><rect x="691.00" y="204.00" width="11.00" height="14.00" fill="#d45700"/><rect x="691.00" y="187.00" width="11.00" height="17.00" fill="#e8ce1b"/><rect x="691.00" y="169.00" width="11.00" height="18.00" fill="#93db80"/><rect x="691.00" y="49.00" width="11.00" height="120.00" fill="#158bb8"/><rect x="702.00" y="352.00" width="12.00" height="4.00" fill="#e8ce1b"/><rect x="702.00" y="351.00" width="12.00" height="1.00" fill="#e7cb18"/><rect x="702.00" y="349.00" width="12.00" height="2.00" fill="#e7c715"/><rect x="702.00" y="342.00" width="12.00" height="7.00" fill="#e6c312"/><rect x="702.00" y="339.00" width="12.00" height="3.00" fill="#e5bf0f"/><rect x="702.00" y="337.00" width="12.00" height="2.00" fill="#e5bb0c"/><rect x="702.00" y="334.00" width="12.00" height="3.00" fill="#e4b809"/><rect x="702.00" y="331.00" width="12.00" height="3.00" fill="#e3b204"/><rect x="702.00" y="327.00" width="12.00" height="4.00" fill="#e2ac00"/><rect x="702.00" y="323.00" width="12.00" height="4.00" fill="#e1a400"/><rect x="702.00" y="319.00" width="12.00" height="4.00" fill="#e09b00"/><rect x="702.00" y="314.00" width="12.00" height="5.00" fill="#dc8200"/><rect x="702.00" y="309.00" width="12.00" height="5.00" fill="#d86800"/><rect x="702.00" y="303.00" width="12.00" height="6.00" fill="#d45700"/><rect x="702.00" y="297.00" width="12.00" height="6.00" fill="#d04600"/><rect x="702.00" y="290.00" width="12.00" height="7.00" fill="#cc3500"/><rect x="702.00" y="274.00" width="12.00" height="16.00" fill="#c82400"/><rect x="702.00" y="265.00" width="12.00" height="9.00" fill="#be1200"/><rect x="702.00" y="255.00" width="12.00" height="10.00" fill="#b90900"/><rect x="702.00" y="232.00" width="12.00" height="23.00" fill="#b40000"/><rect x="702.00" y="218.00" width="12.00" height="14.00" fill="#b90900"/><rect x="702.00" y="204.00" width="12.00" height="14.00" fill="#c31b00"/><rect x="702.00" y="187.00" width="12.00" height="17.00" fill="#d04600"/><rect x="702.00" y="169.00" width="12.00" height="18.00" fill="#da7900"/><rect x="702.00" y="150.00" width="12.00" height="19.00" fill="#e4b809"/><rect x="702.00" y="128.00" width="12.00" height="22.00" fill="#eada24"/><rect x="702.00" y="103.00" width="12.00" height="25.00" fill="#e3fd64"/><rect x="702.00" y="77.00" width="12.00" height="26.00" fill="#c9f36d"/><rect x="702.00" y="49.00" width="12.00" height="28.00" fill="#93db80"/><rect x="714.00" y="348.00" width="11.00" height="8.00" fill="#eada24"/><rect x="714.00" y="346.00" width="11.00" height="2.00" fill="#e9d621"/><rect x="714.00" y="344.00" width="11.00" height="2.00" fill="#e9d21e"/><rect x="714.00" y="342.00" width="11.00" height="2.00" fill="#e8ce1b"/><rect x="714.00" y="339.00" width="11.00" height="3.00" fill="#e7cb18"/><rect x="714.00" y="337.00" width="11.00" height="2.00" fill="#e7c715"/><rect x="714.00" y="327.00" width="11.00" height="10.00" fill="#e6c312"/><rect x="714.00" y="323.00" width="11.00" height="4.00" fill="#e5bd0e"/><rect x="714.00" y="319.00" width="11.00" height="4.00" fill="#e4b809"/><rect x="714.00" y="314.00" width="11.00" height="5.00" fill="#e2ac00"/><rect x="714.00" y="309.00" width="11.00" height="5.00" fill="#e09b00"/><rect x="714.00" y="303.00" width="11.00" height="6.00" fill="#dd8a00"/><rect x="714.00" y="297.00" width="11.00" height="6.00" fill="#da7900"/><rect x="714.00" y="290.00" width="11.00" height="7.00" fill="#d45700"/><rect x="714.00" y="283.00" width="11.00" height="7.00" fill="#d04600"/><rect x="714.00" y="274.00" width="11.00" height="9.00" fill="#cc3500"/><rect x="714.00" y="265.00" width="11.00" height="9.00" fill="#c82400"/><rect x="714.00" y="255.00" width="11.00" height="10.00" fill="#be1200"/><rect x="714.00" y="218.00" width="11.00" height="37.00" fill="#b40000"/><rect x="714.00" y="204.00" width="11.00" height="14.00" fill="#be1200"/><rect x="714.00" y="187.00" width="11.00" height="17.00" fill="#d45700"/><rect x="714.00" y="169.00" width="11.00" height="18.00" fill="#e6c312"/><rect x="714.00" y="150.00" width="11.00" height="19.00" fill="#c9f36d"/><rect x="714.00" y="128.00" width="11.00" height="22.00" fill="#40aca2"/><rect x="714.00" y="49.00" width="11.00" height="79.00" fill="#0679c2"/><rect x="725.00" y="356.00" width="11.00" height="0.00" fill="#e3fd64"/><rect x="725.00" y="354.00" width="11.00" height="2.00" fill="#e8fd5f"/><rect x="725.00" y="353.00" width="11.00" height="1.00" fill="#e8f653"/><rect x="725.00" y="348.00" width="11.00" height="5.00" fill="#e9ef47"/><rect x="725.00" y="346.00" width="11.00" height="2.00" fill="#e9e83c"/><rect x="725.00" y="344.00" width="11.00" height="2.00" fill="#eae130"/><rect x="725.00" y="342.00" width="11.00" height="2.00" fill="#eada24"/><rect x="725.00" y="339.00" width="11.00" height="3.00" fill="#e9d21e"/><rect x="725.00" y="337.00" width="11.00" height="2.00" fill="#e7cb18"/><rect x="725.00" y="334.00" width="11.00" height="3.00" fill="#e6c312"/><rect x="725.00" y="331.00" width="11.00" height="3.00" fill="#e5bd0e"/><rect x="725.00" y="327.00" width="11.00" height="4.00" fill="#e4b809"/><rect x="725.00" y="323.00" width="11.00" height="4.00" fill="#e2ac00"/><rect x="725.00" y="319.00" width="11.00" height="4.00" fill="#e09b00"/><rect x="725.00" y="314.00" width="11.00" height="5.00" fill="#da7900"/><rect x="725.00" y="309.00" width="11.00" height="5.00" fill="#d45700"/><rect x="725.00" y="303.00" width="11.00" height="6.00" fill="#d04600"/><rect x="725.00" y="297.00" width="11.00" height="6.00" fill="#cc3500"/><rect x="725.00" y="290.00" width="11.00" height="7.00" fill="#c82400"/><rect x="725.00" y="274.00" width="11.00" height="16.00" fill="#c31b00"/><rect x="725.00" y="218.00" width="11.00" height="56.00" fill="#b40000"/><rect x="725.00" y="204.00" width="11.00" height="14.00" fill="#c31b00"/><rect x="725.00" y="187.00" width="11.00" height="17.00" fill="#da7900"/><rect x="725.00" y="169.00" width="11.00" height="18.00" fill="#e3fd64"/><rect x="725.00" y="150.00" width="11.00" height="19.00" fill="#2da0ab"/><rect x="725.00" y="49.00" width="11.00" height="101.00" fill="#40aca2"/><rect x="736.00" y="342.00" width="11.00" height="14.00" fill="#eada24"/><rect x="736.00" y="339.00" width="11.00" height="3.00" fill="#e9d621"/><rect x="736.00" y="337.00" width="11.00" height="2.00" fill="#e9d21e"/><rect x="736.00" y="334.00" width="11.00" height="3.00" fill="#e8ce1b"/><rect x="736.00" y="331.00" width="11.00" height="3.00" fill="#e7c916"/><rect x="736.00" y="327.00" width="11.00" height="4.00" fill="#e6c312"/><rect x="736.00" y="323.00" width="11.00" height="4.00" fill="#e5bd0e"/><rect x="736.00" y="319.00" width="11.00" height="4.00" fill="#e4b809"/><rect x="736.00" y="314.00" width="11.00" height="5.00" fill="#e2ac00"/><rect x="736.00" y="309.00" width="11.00" height="5.00" fill="#e09b00"/><rect x="736.00" y="303.00" width="11.00" height="6.00" fill="#dd8a00"/><rect x="736.00" y="297.00" width="11.00" height="6.00" fill="#da7900"/><rect x="736.00" y="290.00" width="11.00" height="7.00" fill="#d86800"/><rect x="736.00" y="283.00" width="11.00" height="7.00" fill="#d45700"/><rect x="736.00" y="274.00" width="11.00" height="9.00" fill="#d04600"/><rect x="736.00" y="265.00" width="11.00" height="9.00" fill="#cc3500"/><rect x="736.00" y="255.00" width="11.00" height="10.00" fill="#c82400"/><rect x="736.00" y="244.00" width="11.00" height="11.00" fill="#c31b00"/><rect x="736.00" y="232.00" width="11.00" height="12.00" fill="#c82400"/><rect x="736.00" y="218.00" width="11.00" height="14.00" fill="#cc3500"/><rect x="736.00" y="204.00" width="11.00" height="14.00" fill="#d04600"/><rect x="736.00" y="187.00" width="11.00" height="17.00" fill="#dd8a00"/><rect x="736.00" y="169.00" width="11.00" height="18.00" fill="#e6c312"/><rect x="736.00" y="150.00" width="11.00" height="19.00" fill="#e3fd64"/><rect x="736.00" y="128.00" width="11.00" height="22.00" fill="#93db80"/><rect x="736.00" y="103.00" width="11.00" height="25.00" fill="#52b899"/><rect x="736.00" y="77.00" width="11.00" height="26.00" fill="#2da0ab"/><rect x="736.00" y="49.00" width="11.00" height="28.00" fill="#158bb8"/><rect x="747.00" y="327.00" width="12.00" height="29.00" fill="#eada24"/><rect x="747.00" y="323.00" width="12.00" height="4.00" fill="#e9d420"/><rect x="747.00" y="319.00" width="12.00" height="4.00" fill="#e8ce1b"/><rect x="747.00" y="314.00" width="12.00" height="5.00" fill="#e6c312"/><rect x="747.00" y="309.00" width="12.00" height="5.00" fill="#e4b809"/><rect x="747.00" y="303.00" width="12.00" height="6.00" fill="#e2ac00"/><rect x="747.00" y="297.00" width="12.00" height="6.00" fill="#e09b00"/><rect x="747.00" y="290.00" width="12.00" height="7.00" fill="#dd8a00"/><rect x="747.00" y="283.00" width="12.00" height="7.00" fill="#da7900"/><rect x="747.00" y="274.00" width="12.00" height="9.00" fill="#d86800"/><rect x="747.00" y="265.00" width="12.00" height="9.00" fill="#cc3500"/><rect x="747.00" y="255.00" width="12.00" height="10.00" fill="#d04600"/><rect x="747.00" y="244.00" width="12.00" height="11.00" fill="#d86800"/><rect x="747.00" y="232.00" width="12.00" height="12.00" fill="#d45700"/><rect x="747.00" y="218.00" width="12.00" height="14.00" fill="#cc3500"/><rect x="747.00" y="204.00" width="12.00" height="14.00" fill="#c82400"/><rect x="747.00" y="169.00" width="12.00" height="35.00" fill="#b40000"/><rect x="747.00" y="150.00" width="12.00" height="19.00" fill="#a60000"/><rect x="747.00" y="128.00" width="12.00" height="22.00" fill="#b40000"/><rect x="747.00" y="103.00" width="12.00" height="25.00" fill="#c31b00"/><rect x="747.00" y="77.00" width="12.00" height="26.00" fill="#d04600"/><rect x="747.00" y="49.00" width="12.00" height="28.00" fill="#da7900"/><rect x="759.00" y="327.00" width="11.00" height="29.00" fill="#eada24"/><rect x="759.00" y="323.00" width="11.00" height="4.00" fill="#e9d420"/><rect x="759.00" y="319.00" width="11.00" height="4.00" fill="#e8ce1b"/><rect x="759.00" y="314.00" width="11.00" height="5.00" fill="#e6c312"/><rect x="759.00" y="303.00" width="11.00" height="11.00" fill="#e4b809"/><rect x="759.00" y="297.00" width="11.00" height="6.00" fill="#e2ac00"/><rect x="759.00" y="290.00" width="11.00" height="7.00" fill="#e09b00"/><rect x="759.00" y="283.00" width="11.00" height="7.00" fill="#dd8a00"/><rect x="759.00" y="274.00" width="11.00" height="9.00" fill="#da7900"/><rect x="759.00" y="265.00" width="11.00" height="9.00" fill="#d86800"/><rect x="759.00" y="255.00" width="11.00" height="10.00" fill="#d45700"/><rect x="759.00" y="244.00" width="11.00" height="11.00" fill="#d04600"/><rect x="759.00" y="204.00" width="11.00" height="40.00" fill="#c82400"/><rect x="759.00" y="187.00" width="11.00" height="17.00" fill="#cc3500"/><rect x="759.00" y="169.00" width="11.00" height="18.00" fill="#d45700"/><rect x="759.00" y="150.00" width="11.00" height="19.00" fill="#dd8a00"/><rect x="759.00" y="128.00" width="11.00" height="22.00" fill="#e4b809"/><rect x="759.00" y="103.00" width="11.00" height="25.00" fill="#eada24"/><rect x="759.00" y="77.00" width="11.00" height="26.00" fill="#e3fd64"/><rect x="759.00" y="49.00" width="11.00" height="28.00" fill="#afe876"/><rect x="770.00" y="334.00" width="11.00" height="22.00" fill="#eada24"/><rect x="770.00" y="331.00" width="11.00" height="3.00" fill="#e9d420"/><rect x="770.00" y="327.00" width="11.00" height="4.00" fill="#e8ce1b"/><rect x="770.00" y="323.00" width="11.00" height="4.00" fill="#e7c916"/><rect x="770.00" y="319.00" width="11.00" height="4.00" fill="#e6c312"/><rect x="770.00" y="314.00" width="11.00" height="5.00" fill="#e4b809"/><rect x="770.00" y="309.00" width="11.00" height="5.00" fill="#e2ac00"/><rect x="770.00" y="303.00" width="11.00" height="6.00" fill="#e09b00"/><rect x="770.00" y="297.00" width="11.00" height="6.00" fill="#dd8a00"/><rect x="770.00" y="290.00" width="11.00" height="7.00" fill="#da7900"/><rect x="770.00" y="274.00" width="11.00" height="16.00" fill="#d86800"/><rect x="770.00" y="255.00" width="11.00" height="19.00" fill="#d45700"/><rect x="770.00" y="232.00" width="11.00" height="23.00" fill="#d04600"/><rect x="770.00" y="218.00" width="11.00" height="14.00" fill="#d86800"/><rect x="770.00" y="204.00" width="11.00" height="14.00" fill="#dd8a00"/><rect x="770.00" y="187.00" width="11.00" height="17.00" fill="#e6c312"/><rect x="770.00" y="169.00" width="11.00" height="18.00" fill="#e9ef47"/><rect x="770.00" y="150.00" width="11.00" height="19.00" fill="#afe876"/><rect x="770.00" y="128.00" width="11.00" height="22.00" fill="#75cc8a"/><rect x="770.00" y="77.00" width="11.00" height="51.00" fill="#40aca2"/><rect x="770.00" y="49.00" width="11.00" height="28.00" fill="#52b899"/><rect x="781.00" y="334.00" width="11.00" height="22.00" fill="#eada24"/><rect x="781.00" y="331.00" width="11.00" height="3.00" fill="#e9d420"/><rect x="781.00" y="327.00" width="11.00" height="4.00" fill="#e8ce1b"/><rect x="781.00" y="323.00" width="11.00" height="4.00" fill="#e7c916"/><rect x="781.00" y="319.00" width="11.00" height="4.00" fill="#e6c312"/><rect x="781.00" y="314.00" width="11.00" height="5.00" fill="#e4b809"/><rect x="781.00" y="309.00" width="11.00" height="5.00" fill="#e2ac00"/><rect x="781.00" y="303.00" width="11.00" height="6.00" fill="#e09b00"/><rect x="781.00" y="297.00" width="11.00" height="6.00" fill="#dd8a00"/><rect x="781.00" y="290.00" width="11.00" height="7.00" fill="#da7900"/><rect x="781.00" y="283.00" width="11.00" height="7.00" fill="#d86800"/><rect x="781.00" y="274.00" width="11.00" height="9.00" fill="#d45700"/><rect x="781.00" y="255.00" width="11.00" height="19.00" fill="#d04600"/><rect x="781.00" y="244.00" width="11.00" height="11.00" fill="#cc3500"/><rect x="781.00" y="232.00" width="11.00" height="12.00" fill="#c82400"/><rect x="781.00" y="218.00" width="11.00" height="14.00" fill="#d04600"/><rect x="781.00" y="204.00" width="11.00" height="14.00" fill="#da7900"/><rect x="781.00" y="187.00" width="11.00" height="17.00" fill="#e4b809"/><rect x="781.00" y="169.00" width="11.00" height="18.00" fill="#c9f36d"/><rect x="781.00" y="150.00" width="11.00" height="19.00" fill="#2da0ab"/><rect x="781.00" y="49.00" width="11.00" height="101.00" fill="#1c94b3"/><rect x="792.00" y="334.00" width="12.00" height="22.00" fill="#e9ef47"/><rect x="792.00" y="331.00" width="12.00" height="3.00" fill="#e9e536"/><rect x="792.00" y="319.00" width="12.00" height="12.00" fill="#eada24"/><rect x="792.00" y="314.00" width="12.00" height="5.00" fill="#e9d420"/><rect x="792.00" y="309.00" width="12.00" height="5.00" fill="#e8ce1b"/><rect x="792.00" y="303.00" width="12.00" height="6.00" fill="#e6c312"/><rect x="792.00" y="290.00" width="12.00" height="13.00" fill="#e4b809"/><rect x="792.00" y="283.00" width="12.00" height="7.00" fill="#e2ac00"/><rect x="792.00" y="274.00" width="12.00" height="9.00" fill="#e09b00"/><rect x="792.00" y="265.00" width="12.00" height="9.00" fill="#dd8a00"/><rect x="792.00" y="244.00" width="12.00" height="21.00" fill="#d86800"/><rect x="792.00" y="232.00" width="12.00" height="12.00" fill="#d04600"/><rect x="792.00" y="218.00" width="12.00" height="14.00" fill="#cc3500"/><rect x="792.00" y="187.00" width="12.00" height="31.00" fill="#d04600"/><rect x="792.00" y="169.00" width="12.00" height="18.00" fill="#da7900"/><rect x="792.00" y="150.00" width="12.00" height="19.00" fill="#e2ac00"/><rect x="792.00" y="128.00" width="12.00" height="22.00" fill="#eada24"/><rect x="792.00" y="103.00" width="12.00" height="25.00" fill="#e3fd64"/><rect x="792.00" y="77.00" width="12.00" height="26.00" fill="#a2e27b"/><rect x="792.00" y="49.00" width="12.00" height="28.00" fill="#75cc8a"/><rect x="804.00" y="334.00" width="11.00" height="22.00" fill="#e9ef47"/><rect x="804.00" y="331.00" width="11.00" height="3.00" fill="#e9e536"/><rect x="804.00" y="319.00" width="11.00" height="12.00" fill="#eada24"/><rect x="804.00" y="314.00" width="11.00" height="5.00" fill="#e9d420"/><rect x="804.00" y="309.00" width="11.00" height="5.00" fill="#e8ce1b"/><rect x="804.00" y="303.00" width="11.00" height="6.00" fill="#e6c312"/><rect x="804.00" y="290.00" width="11.00" height="13.00" fill="#e4b809"/><rect x="804.00" y="283.00" width="11.00" height="7.00" fill="#e2ac00"/><rect x="804.00" y="274.00" width="11.00" height="9.00" fill="#dd8a00"/><rect x="804.00" y="232.00" width="11.00" height="42.00" fill="#d86800"/><rect x="804.00" y="218.00" width="11.00" height="14.00" fill="#d45700"/><rect x="804.00" y="204.00" width="11.00" height="14.00" fill="#cc3500"/><rect x="804.00" y="187.00" width="11.00" height="17.00" fill="#c82400"/><rect x="804.00" y="169.00" width="11.00" height="18.00" fill="#c31b00"/><rect x="804.00" y="150.00" width="11.00" height="19.00" fill="#c82400"/><rect x="804.00" y="128.00" width="11.00" height="22.00" fill="#d04600"/><rect x="804.00" y="103.00" width="11.00" height="25.00" fill="#d86800"/><rect x="804.00" y="77.00" width="11.00" height="26.00" fill="#e09b00"/><rect x="804.00" y="49.00" width="11.00" height="28.00" fill="#e6c312"/><rect x="815.00" y="348.00" width="11.00" height="8.00" fill="#e3fd64"/><rect x="815.00" y="346.00" width="11.00" height="2.00" fill="#e8fd5f"/><rect x="815.00" y="344.00" width="11.00" height="2.00" fill="#e8f653"/><rect x="815.00" y="342.00" width="11.00" height="2.00" fill="#e9ef47"/><rect x="815.00" y="339.00" width="11.00" height="3.00" fill="#e9e83c"/><rect x="815.00" y="337.00" width="11.00" height="2.00" fill="#eae130"/><rect x="815.00" y="334.00" width="11.00" height="3.00" fill="#eada24"/><rect x="815.00" y="331.00" width="11.00" height="3.00" fill="#e9d420"/><rect x="815.00" y="327.00" width="11.00" height="4.00" fill="#e8ce1b"/><rect x="815.00" y="323.00" width="11.00" height="4.00" fill="#e6c312"/><rect x="815.00" y="319.00" width="11.00" height="4.00" fill="#e4b809"/><rect x="815.00" y="314.00" width="11.00" height="5.00" fill="#e2ac00"/><rect x="815.00" y="309.00" width="11.00" height="5.00" fill="#e09b00"/><rect x="815.00" y="303.00" width="11.00" height="6.00" fill="#dd8a00"/><rect x="815.00" y="290.00" width="11.00" height="13.00" fill="#da7900"/><rect x="815.00" y="283.00" width="11.00" height="7.00" fill="#d86800"/><rect x="815.00" y="274.00" width="11.00" height="9.00" fill="#d45700"/><rect x="815.00" y="265.00" width="11.00" height="9.00" fill="#cc3500"/><rect x="815.00" y="244.00" width="11.00" height="21.00" fill="#d04600"/><rect x="815.00" y="232.00" width="11.00" height="12.00" fill="#c82400"/><rect x="815.00" y="204.00" width="11.00" height="28.00" fill="#c31b00"/><rect x="815.00" y="187.00" width="11.00" height="17.00" fill="#d86800"/><rect x="815.00" y="169.00" width="11.00" height="18.00" fill="#e4b809"/><rect x="815.00" y="150.00" width="11.00" height="19.00" fill="#d6f868"/><rect x="815.00" y="49.00" width="11.00" height="101.00" fill="#2da0ab"/><rect x="826.00" y="356.00" width="11.00" height="0.00" fill="#d6f868"/><rect x="826.00" y="354.00" width="11.00" height="2.00" fill="#daf967"/><rect x="826.00" y="353.00" width="11.00" height="1.00" fill="#dffb65"/><rect x="826.00" y="348.00" width="11.00" height="5.00" fill="#e3fd64"/><rect x="826.00" y="346.00" width="11.00" height="2.00" fill="#e8fd5f"/><rect x="826.00" y="344.00" width="11.00" height="2.00" fill="#e8f653"/><rect x="826.00" y="342.00" width="11.00" height="2.00" fill="#e9ef47"/><rect x="826.00" y="339.00" width="11.00" height="3.00" fill="#e9e83c"/><rect x="826.00" y="337.00" width="11.00" height="2.00" fill="#eae130"/><rect x="826.00" y="334.00" width="11.00" height="3.00" fill="#eada24"/><rect x="826.00" y="331.00" width="11.00" height="3.00" fill="#e9d420"/><rect x="826.00" y="327.00" width="11.00" height="4.00" fill="#e8ce1b"/><rect x="826.00" y="323.00" width="11.00" height="4.00" fill="#e6c312"/><rect x="826.00" y="319.00" width="11.00" height="4.00" fill="#e4b809"/><rect x="826.00" y="314.00" width="11.00" height="5.00" fill="#e1a400"/><rect x="826.00" y="309.00" width="11.00" height="5.00" fill="#dd8a00"/><rect x="826.00" y="303.00" width="11.00" height="6.00" fill="#da7900"/><rect x="826.00" y="297.00" width="11.00" height="6.00" fill="#d86800"/><rect x="826.00" y="283.00" width="11.00" height="14.00" fill="#d45700"/><rect x="826.00" y="274.00" width="11.00" height="9.00" fill="#d04600"/><rect x="826.00" y="265.00" width="11.00" height="9.00" fill="#cc3500"/><rect x="826.00" y="255.00" width="11.00" height="10.00" fill="#d04600"/><rect x="826.00" y="244.00" width="11.00" height="11.00" fill="#cc3500"/><rect x="826.00" y="232.00" width="11.00" height="12.00" fill="#c82400"/><rect x="826.00" y="218.00" width="11.00" height="14.00" fill="#c31b00"/><rect x="826.00" y="204.00" width="11.00" height="14.00" fill="#cc3500"/><rect x="826.00" y="187.00" width="11.00" height="17.00" fill="#da7900"/><rect x="826.00" y="169.00" width="11.00" height="18.00" fill="#e8ce1b"/><rect x="826.00" y="150.00" width="11.00" height="19.00" fill="#afe876"/><rect x="826.00" y="49.00" width="11.00" height="101.00" fill="#2da0ab"/><rect x="837.00" y="348.00" width="11.00" height="8.00" fill="#e3fd64"/><rect x="837.00" y="346.00" width="11.00" height="2.00" fill="#e8fd5f"/><rect x="837.00" y="344.00" width="11.00" height="2.00" fill="#e8f653"/><rect x="837.00" y="319.00" width="11.00" height="25.00" fill="#e9ef47"/><rect x="837.00" y="314.00" width="11.00" height="5.00" fill="#e9ea3f"/><rect x="837.00" y="303.00" width="11.00" height="11.00" fill="#e9e536"/><rect x="837.00" y="290.00" width="11.00" height="13.00" fill="#e8ce1b"/><rect x="837.00" y="283.00" width="11.00" height="7.00" fill="#e6c312"/><rect x="837.00" y="274.00" width="11.00" height="9.00" fill="#e8ce1b"/><rect x="837.00" y="265.00" width="11.00" height="9.00" fill="#e4b809"/><rect x="837.00" y="255.00" width="11.00" height="10.00" fill="#e09b00"/><rect x="837.00" y="244.00" width="11.00" height="11.00" fill="#dd8a00"/><rect x="837.00" y="232.00" width="11.00" height="12.00" fill="#da7900"/><rect x="837.00" y="218.00" width="11.00" height="14.00" fill="#d86800"/><rect x="837.00" y="204.00" width="11.00" height="14.00" fill="#d04600"/><rect x="837.00" y="169.00" width="11.00" height="35.00" fill="#cc3500"/><rect x="837.00" y="103.00" width="11.00" height="66.00" fill="#c82400"/><rect x="837.00" y="77.00" width="11.00" height="26.00" fill="#d86800"/><rect x="837.00" y="49.00" width="11.00" height="28.00" fill="#dd8a00"/><rect x="848.00" y="348.00" width="12.00" height="8.00" fill="#e3fd64"/><rect x="848.00" y="346.00" width="12.00" height="2.00" fill="#e8fd5f"/><rect x="848.00" y="344.00" width="12.00" height="2.00" fill="#e8f653"/><rect x="848.00" y="334.00" width="12.00" height="10.00" fill="#e9ef47"/><rect x="848.00" y="331.00" width="12.00" height="3.00" fill="#e9e536"/><rect x="848.00" y="319.00" width="12.00" height="12.00" fill="#eada24"/><rect x="848.00" y="314.00" width="12.00" height="5.00" fill="#e8ce1b"/><rect x="848.00" y="309.00" width="12.00" height="5.00" fill="#e6c312"/><rect x="848.00" y="303.00" width="12.00" height="6.00" fill="#e4b809"/><rect x="848.00" y="297.00" width="12.00" height="6.00" fill="#e2ac00"/><rect x="848.00" y="290.00" width="12.00" height="7.00" fill="#e09b00"/><rect x="848.00" y="274.00" width="12.00" height="16.00" fill="#dd8a00"/><rect x="848.00" y="265.00" width="12.00" height="9.00" fill="#d86800"/><rect x="848.00" y="255.00" width="12.00" height="10.00" fill="#d45700"/><rect x="848.00" y="244.00" width="12.00" height="11.00" fill="#d04600"/><rect x="848.00" y="232.00" width="12.00" height="12.00" fill="#c82400"/><rect x="848.00" y="204.00" width="12.00" height="28.00" fill="#c31b00"/><rect x="848.00" y="187.00" width="12.00" height="17.00" fill="#c82400"/><rect x="848.00" y="169.00" width="12.00" height="18.00" fill="#da7900"/><rect x="848.00" y="150.00" width="12.00" height="19.00" fill="#e4b809"/><rect x="848.00" y="128.00" width="12.00" height="22.00" fill="#e3fd64"/><rect x="848.00" y="103.00" width="12.00" height="25.00" fill="#93db80"/><rect x="848.00" y="77.00" width="12.00" height="26.00" fill="#52b899"/><rect x="848.00" y="49.00" width="12.00" height="28.00" fill="#158bb8"/><rect x="860.00" y="348.00" width="11.00" height="8.00" fill="#e3fd64"/><rect x="860.00" y="346.00" width="11.00" height="2.00" fill="#e8fd5f"/><rect x="860.00" y="344.00" width="11.00" height="2.00" fill="#e8f653"/><rect x="860.00" y="327.00" width="11.00" height="17.00" fill="#e9ef47"/><rect x="860.00" y="323.00" width="11.00" height="4.00" fill="#e9e536"/><rect x="860.00" y="319.00" width="11.00" height="4.00" fill="#eada24"/><rect x="860.00" y="314.00" width="11.00" height="5.00" fill="#e9d420"/><rect x="860.00" y="309.00" width="11.00" height="5.00" fill="#e8ce1b"/><rect x="860.00" y="303.00" width="11.00" height="6.00" fill="#e6c312"/><rect x="860.00" y="297.00" width="11.00" height="6.00" fill="#e4b809"/><rect x="860.00" y="290.00" width="11.00" height="7.00" fill="#e2ac00"/><rect x="860.00" y="283.00" width="11.00" height="7.00" fill="#e09b00"/><rect x="860.00" y="274.00" width="11.00" height="9.00" fill="#dd8a00"/><rect x="860.00" y="265.00" width="11.00" height="9.00" fill="#da7900"/><rect x="860.00" y="255.00" width="11.00" height="10.00" fill="#d86800"/><rect x="860.00" y="244.00" width="11.00" height="11.00" fill="#d45700"/><rect x="860.00" y="232.00" width="11.00" height="12.00" fill="#cc3500"/><rect x="860.00" y="218.00" width="11.00" height="14.00" fill="#c82400"/><rect x="860.00" y="187.00" width="11.00" height="31.00" fill="#c31b00"/><rect x="860.00" y="169.00" width="11.00" height="18.00" fill="#d04600"/><rect x="860.00" y="150.00" width="11.00" height="19.00" fill="#dd8a00"/><rect x="860.00" y="128.00" width="11.00" height="22.00" fill="#d6f868"/><rect x="860.00" y="103.00" width="11.00" height="25.00" fill="#52b899"/><rect x="860.00" y="77.00" width="11.00" height="26.00" fill="#0679c2"/><rect x="860.00" y="49.00" width="11.00" height="28.00" fill="#0d82bd"/><rect x="871.00" y="348.00" width="11.00" height="8.00" fill="#e3fd64"/><rect x="871.00" y="346.00" width="11.00" height="2.00" fill="#e8fd5f"/><rect x="871.00" y="344.00" width="11.00" height="2.00" fill="#e8f653"/><rect x="871.00" y="334.00" width="11.00" height="10.00" fill="#e9ef47"/><rect x="871.00" y="331.00" width="11.00" height="3.00" fill="#e9e536"/><rect x="871.00" y="327.00" width="11.00" height="4.00" fill="#eada24"/><rect x="871.00" y="323.00" width="11.00" height="4.00" fill="#e9d420"/><rect x="871.00" y="319.00" width="11.00" height="4.00" fill="#e8ce1b"/><rect x="871.00" y="314.00" width="11.00" height="5.00" fill="#e6c312"/><rect x="871.00" y="309.00" width="11.00" height="5.00" fill="#e4b809"/><rect x="871.00" y="303.00" width="11.00" height="6.00" fill="#e2ac00"/><rect x="871.00" y="297.00" width="11.00" height="6.00" fill="#e09b00"/><rect x="871.00" y="290.00" width="11.00" height="7.00" fill="#dd8a00"/><rect x="871.00" y="283.00" width="11.00" height="7.00" fill="#da7900"/><rect x="871.00" y="274.00" width="11.00" height="9.00" fill="#d86800"/><rect x="871.00" y="244.00" width="11.00" height="30.00" fill="#d04600"/><rect x="871.00" y="232.00" width="11.00" height="12.00" fill="#cc3500"/><rect x="871.00" y="218.00" width="11.00" height="14.00" fill="#c82400"/><rect x="871.00" y="204.00" width="11.00" height="14.00" fill="#be1200"/><rect x="871.00" y="187.00" width="11.00" height="17.00" fill="#cc3500"/><rect x="871.00" y="169.00" width="11.00" height="18.00" fill="#e09b00"/><rect x="871.00" y="150.00" width="11.00" height="19.00" fill="#e3fd64"/><rect x="871.00" y="49.00" width="11.00" height="101.00" fill="#1c94b3"/><rect x="882.00" y="334.00" width="11.00" height="22.00" fill="#e3fd64"/><rect x="882.00" y="331.00" width="11.00" height="3.00" fill="#e8fa59"/><rect x="882.00" y="319.00" width="11.00" height="12.00" fill="#e9ef47"/><rect x="882.00" y="314.00" width="11.00" height="5.00" fill="#e9ea3f"/><rect x="882.00" y="309.00" width="11.00" height="5.00" fill="#e9e536"/><rect x="882.00" y="297.00" width="11.00" height="12.00" fill="#e8ce1b"/><rect x="882.00" y="290.00" width="11.00" height="7.00" fill="#e6c312"/><rect x="882.00" y="274.00" width="11.00" height="16.00" fill="#e4b809"/><rect x="882.00" y="265.00" width="11.00" height="9.00" fill="#e09b00"/><rect x="882.00" y="255.00" width="11.00" height="10.00" fill="#da7900"/><rect x="882.00" y="232.00" width="11.00" height="23.00" fill="#d86800"/><rect x="882.00" y="218.00" width="11.00" height="14.00" fill="#d45700"/><rect x="882.00" y="204.00" width="11.00" height="14.00" fill="#d04600"/><rect x="882.00" y="187.00" width="11.00" height="17.00" fill="#cc3500"/><rect x="882.00" y="169.00" width="11.00" height="18.00" fill="#c82400"/><rect x="882.00" y="150.00" width="11.00" height="19.00" fill="#be1200"/><rect x="882.00" y="128.00" width="11.00" height="22.00" fill="#b40000"/><rect x="882.00" y="103.00" width="11.00" height="25.00" fill="#a60000"/><rect x="882.00" y="77.00" width="11.00" height="26.00" fill="#b40000"/><rect x="882.00" y="49.00" width="11.00" height="28.00" fill="#cc3500"/><rect x="893.00" y="327.00" width="7.00" height="29.00" fill="#e3fd64"/><rect x="893.00" y="323.00" width="7.00" height="4.00" fill="#e8fa59"/><rect x="893.00" y="319.00" width="7.00" height="4.00" fill="#e9ef47"/><rect x="893.00" y="314.00" width="7.00" height="5.00" fill="#e9ea3f"/><rect x="893.00" y="303.00" width="7.00" height="11.00" fill="#e9e536"/><rect x="893.00" y="290.00" width="7.00" height="13.00" fill="#e8ce1b"/><rect x="893.00" y="274.00" width="7.00" height="16.00" fill="#e6c312"/><rect x="893.00" y="265.00" width="7.00" height="9.00" fill="#e2ac00"/><rect x="893.00" y="255.00" width="7.00" height="10.00" fill="#dd8a00"/><rect x="893.00" y="244.00" width="7.00" height="11.00" fill="#da7900"/><rect x="893.00" y="232.00" width="7.00" height="12.00" fill="#d45700"/><rect x="893.00" y="218.00" width="7.00" height="14.00" fill="#d04600"/><rect x="893.00" y="169.00" width="7.00" height="49.00" fill="#cc3500"/><rect x="893.00" y="150.00" width="7.00" height="19.00" fill="#d04600"/><rect x="893.00" y="128.00" width="7.00" height="22.00" fill="#da7900"/><rect x="893.00" y="103.00" width="7.00" height="25.00" fill="#e2ac00"/><rect x="893.00" y="77.00" width="7.00" height="26.00" fill="#eada24"/><rect x="893.00" y="49.00" width="7.00" height="28.00" fill="#d6f868"/></g>
<clipPath id="ax"><rect x="126" y="49" width="774" height="307"/></clipPath>
<path d="M121 255h8v4h-8zM123 253h4v8h-4zM132 255h8v4h-8zM134 253h4v8h-4zM143 255h8v4h-8zM145 253h4v8h-4zM155 255h8v4h-8zM157 253h4v8h-4zM166 255h8v4h-8zM168 253h4v8h-4zM177 255h8v4h-8zM179 253h4v8h-4zM188 255h8v4h-8zM190 253h4v8h-4zM200 255h8v4h-8zM202 253h4v8h-4zM211 255h8v4h-8zM213 253h4v8h-4zM222 255h8v4h-8zM224 253h4v8h-4zM233 255h8v4h-8zM235 253h4v8h-4zM245 255h8v4h-8zM247 253h4v8h-4zM256 255h8v4h-8zM258 253h4v8h-4zM267 255h8v4h-8zM269 253h4v8h-4zM278 255h8v4h-8zM280 253h4v8h-4zM289 255h8v4h-8zM291 253h4v8h-4zM301 255h8v4h-8zM303 253h4v8h-4zM312 255h8v4h-8zM314 253h4v8h-4zM323 255h8v4h-8zM325 253h4v8h-4zM334 255h8v4h-8zM336 253h4v8h-4zM346 255h8v4h-8zM348 253h4v8h-4zM357 255h8v4h-8zM359 253h4v8h-4zM368 255h8v4h-8zM370 253h4v8h-4zM379 255h8v4h-8zM381 253h4v8h-4zM391 255h8v4h-8zM393 253h4v8h-4zM402 255h8v4h-8zM404 253h4v8h-4zM413 255h8v4h-8zM415 253h4v8h-4zM424 255h8v4h-8zM426 253h4v8h-4zM435 255h8v4h-8zM437 253h4v8h-4zM447 255h8v4h-8zM449 253h4v8h-4zM458 255h8v4h-8zM460 253h4v8h-4zM469 255h8v4h-8zM471 253h4v8h-4zM480 255h8v4h-8zM482 253h4v8h-4zM492 255h8v4h-8zM494 253h4v8h-4zM503 255h8v4h-8zM505 253h4v8h-4zM514 255h8v4h-8zM516 253h4v8h-4zM525 255h8v4h-8zM527 253h4v8h-4zM537 255h8v4h-8zM539 253h4v8h-4zM548 255h8v4h-8zM550 253h4v8h-4zM559 255h8v4h-8zM561 253h4v8h-4zM570 255h8v4h-8zM572 253h4v8h-4zM582 255h8v4h-8zM584 253h4v8h-4zM593 255h8v4h-8zM595 253h4v8h-4zM604 255h8v4h-8zM606 253h4v8h-4zM615 255h8v4h-8zM617 253h4v8h-4zM626 255h8v4h-8zM628 253h4v8h-4zM638 255h8v4h-8zM640 253h4v8h-4zM649 255h8v4h-8zM651 253h4v8h-4zM660 255h8v4h-8zM662 253h4v8h-4zM671 255h8v4h-8zM673 253h4v8h-4zM683 255h8v4h-8zM685 253h4v8h-4zM694 255h8v4h-8zM696 253h4v8h-4zM705 255h8v4h-8zM707 253h4v8h-4zM716 255h8v4h-8zM718 253h4v8h-4zM728 255h8v4h-8zM730 253h4v8h-4zM739 255h8v4h-8zM741 253h4v8h-4zM750 255h8v4h-8zM752 253h4v8h-4zM761 255h8v4h-8zM763 253h4v8h-4zM772 255h8v4h-8zM774 253h4v8h-4zM784 255h8v4h-8zM786 253h4v8h-4zM795 255h8v4h-8zM797 253h4v8h-4zM806 255h8v4h-8zM808 253h4v8h-4zM817 255h8v4h-8zM819 253h4v8h-4zM829 255h8v4h-8zM831 253h4v8h-4zM840 255h8v4h-8zM842 253h4v8h-4zM851 255h8v4h-8zM853 253h4v8h-4zM862 255h8v4h-8zM864 253h4v8h-4zM874 255h8v4h-8zM876 253h4v8h-4zM885 255h8v4h-8zM887 253h4v8h-4zM896 255h8v4h-8zM898 253h4v8h-4z" fill="#fff" shape-rendering="crispEdges" clip-path="url(#ax)"/>
<rect x="125.5" y="48.5" width="775" height="308" fill="none" stroke="#000" stroke-width="1.1"/>
<rect x="910.5" y="48.5" width="10" height="308" fill="url(#cb)" stroke="#000" stroke-width="1.1"/>
<path d="M215.50 357v4.9M316.50 357v4.9M417.50 357v4.9M518.50 357v4.9M619.50 357v4.9M720.50 357v4.9M821.50 357v4.9M120.1 356.50h4.9M120.1 306.50h4.9M120.1 257.50h4.9M120.1 208.50h4.9M120.1 159.50h4.9M120.1 110.50h4.9M120.1 61.50h4.9M921 48.50h4.9M921 110.50h4.9M921 172.50h4.9M921 233.50h4.9M921 295.50h4.9" stroke="#000" stroke-width="1.1" fill="none"/>
</svg>
<div class="t" id="title">20230614</div>
<div class="t" id="xl">Time [UTC]</div>
<div class="t" id="yl"><span>(km AGL)</span></div>
<div class="t" id="cl"><span>(%)</span></div>
<div class="t xt" style="left:175.1px">03:00</div>
<div class="t xt" style="left:276.1px">06:00</div>
<div class="t xt" style="left:377.1px">09:00</div>
<div class="t xt" style="left:478.1px">12:00</div>
<div class="t xt" style="left:579.1px">15:00</div>
<div class="t xt" style="left:680.1px">18:00</div>
<div class="t xt" style="left:781.1px">21:00</div>
<div class="t yt" style="top:345.5px">0.0</div>
<div class="t yt" style="top:295.5px">0.5</div>
<div class="t yt" style="top:246.5px">1.0</div>
<div class="t yt" style="top:197.5px">1.5</div>
<div class="t yt" style="top:148.5px">2.0</div>
<div class="t yt" style="top:99.5px">2.5</div>
<div class="t yt" style="top:50.5px">3.0</div>
<div class="t ct" style="top:37.5px">100</div>
<div class="t ct" style="top:99.5px">80</div>
<div class="t ct" style="top:161.5px">60</div>
<div class="t ct" style="top:222.5px">40</div>
<div class="t ct" style="top:284.5px">20</div>
</body></html>
